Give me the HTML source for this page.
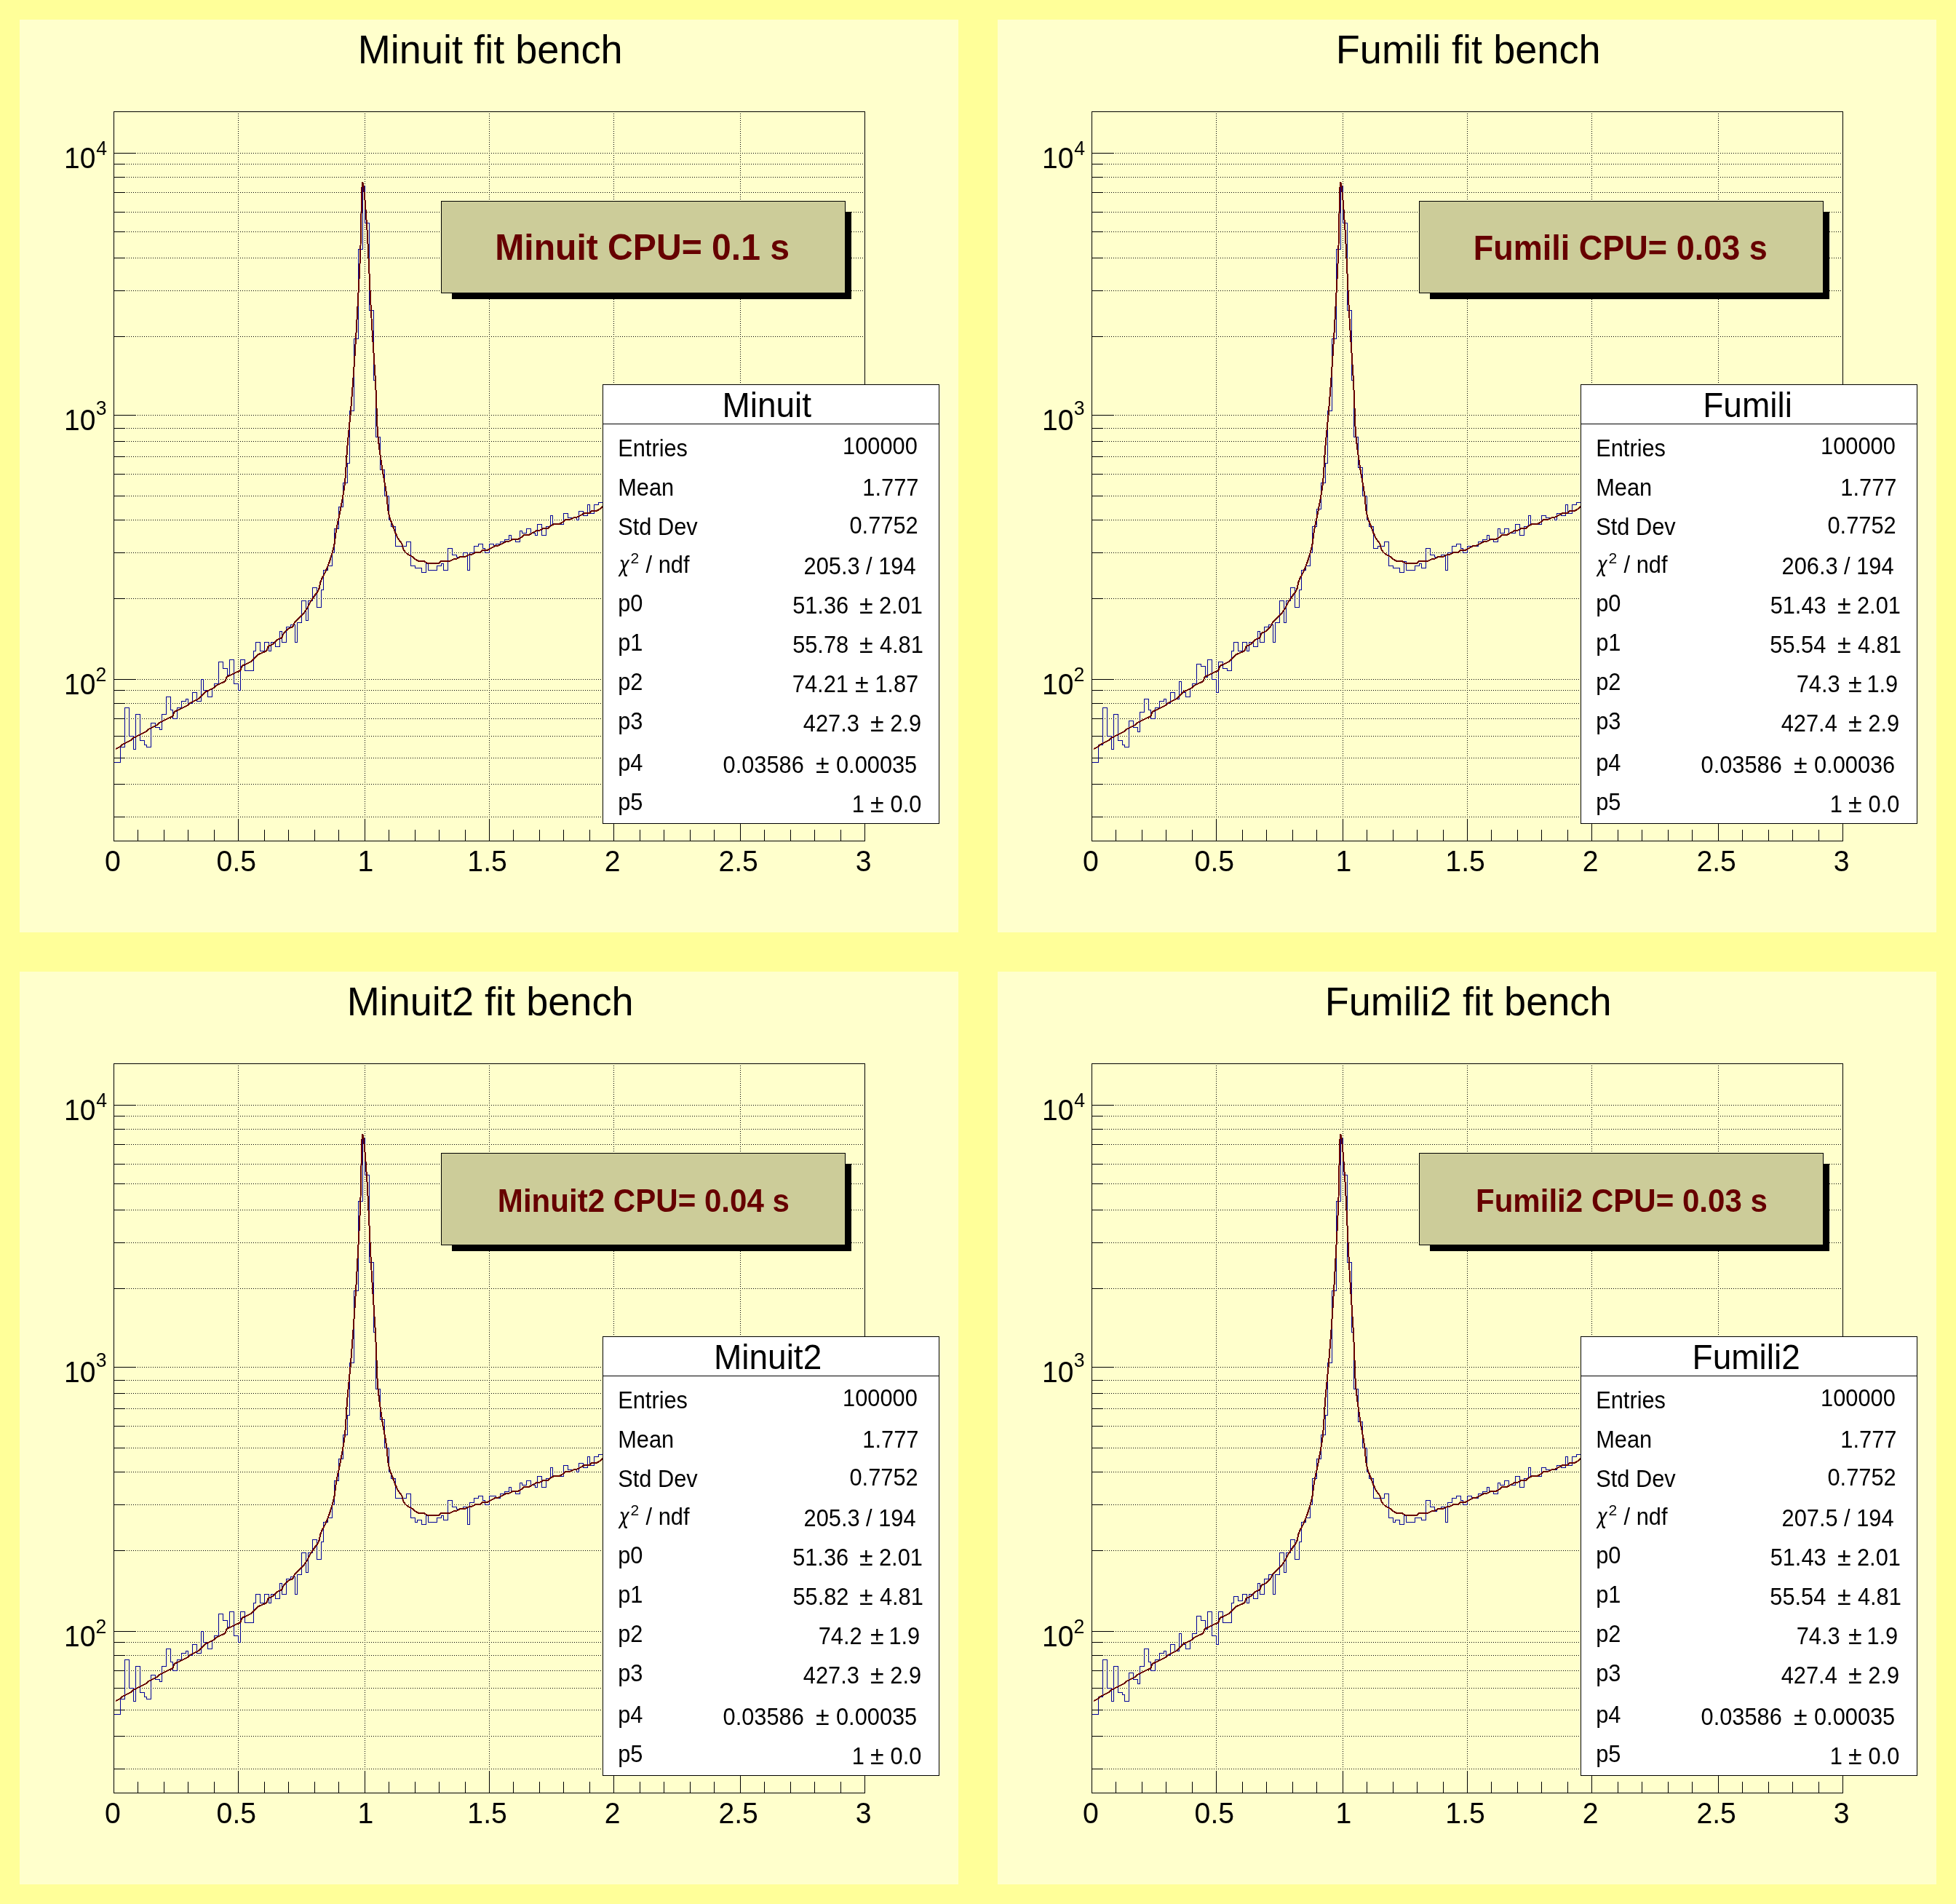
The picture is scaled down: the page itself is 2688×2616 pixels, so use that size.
<!DOCTYPE html>
<html><head><meta charset="utf-8"><title>Fitting Demo</title>
<style>html,body{margin:0;padding:0;background:#ffff99;overflow:hidden}svg{display:block;will-change:transform}text{font-kerning:none}</style></head><body>
<svg width="2688" height="2616" viewBox="0 0 2688 2616" font-family="'Liberation Sans', Arial, Helvetica, sans-serif" shape-rendering="crispEdges">
<rect width="2688" height="2616" fill="#ffff99"/>
<g transform="translate(0 0)">
<rect x="27" y="27" width="1290" height="1254" fill="#ffffcc"/>
<text transform="matrix(1 0 0 1.035 491.78 87.10)" font-size="54.10">Minuit fit bench</text>
<path d="M327.5 153 V1155 M501.5 153 V1155 M672.5 153 V1155 M843.5 153 V1155 M1017.5 153 V1155 M156 1122.5 H1188 M156 1077.5 H1188 M156 1041.5 H1188 M156 1011.5 H1188 M156 987.5 H1188 M156 966.5 H1188 M156 948.5 H1188 M156 933.5 H1188 M156 822.5 H1188 M156 759.5 H1188 M156 714.5 H1188 M156 681.5 H1188 M156 651.5 H1188 M156 627.5 H1188 M156 606.5 H1188 M156 588.5 H1188 M156 570.5 H1188 M156 462.5 H1188 M156 399.5 H1188 M156 354.5 H1188 M156 318.5 H1188 M156 291.5 H1188 M156 264.5 H1188 M156 243.5 H1188 M156 225.5 H1188 M156 210.5 H1188" stroke="#000" stroke-width="1" stroke-dasharray="1 2" fill="none"/>
<path d="M156 1122.5 H172 M156 1077.5 H172 M156 1041.5 H172 M156 1011.5 H172 M156 987.5 H172 M156 966.5 H172 M156 948.5 H172 M156 933.5 H187 M156 822.5 H172 M156 759.5 H172 M156 714.5 H172 M156 681.5 H172 M156 651.5 H172 M156 627.5 H172 M156 606.5 H172 M156 588.5 H172 M156 570.5 H187 M156 462.5 H172 M156 399.5 H172 M156 354.5 H172 M156 318.5 H172 M156 291.5 H172 M156 264.5 H172 M156 243.5 H172 M156 225.5 H172 M156 210.5 H187 M189.5 1156 V1140 M225.5 1156 V1140 M258.5 1156 V1140 M294.5 1156 V1140 M327.5 1156 V1125 M363.5 1156 V1140 M396.5 1156 V1140 M432.5 1156 V1140 M465.5 1156 V1140 M501.5 1156 V1125 M534.5 1156 V1140 M570.5 1156 V1140 M603.5 1156 V1140 M639.5 1156 V1140 M672.5 1156 V1125 M705.5 1156 V1140 M741.5 1156 V1140 M774.5 1156 V1140 M810.5 1156 V1140 M843.5 1156 V1125 M879.5 1156 V1140 M912.5 1156 V1140 M948.5 1156 V1140 M981.5 1156 V1140 M1017.5 1156 V1125 M1050.5 1156 V1140 M1086.5 1156 V1140 M1119.5 1156 V1140 M1155.5 1156 V1140" stroke="#000" stroke-width="1" fill="none"/>
<path d="M156.5 1047.5 H162.5 V1047.5 H165.5 V1026.5 H171.5 V972.5 H177.5 V1011.5 H183.5 V1029.5 H186.5 V981.5 H192.5 V1017.5 H198.5 V1023.5 H201.5 V1026.5 H207.5 V993.5 H213.5 V999.5 H219.5 V1002.5 H222.5 V981.5 H228.5 V957.5 H234.5 V975.5 H237.5 V987.5 H243.5 V972.5 H249.5 V963.5 H255.5 V960.5 H258.5 V966.5 H264.5 V951.5 H270.5 V963.5 H276.5 V933.5 H279.5 V948.5 H285.5 V957.5 H291.5 V945.5 H294.5 V939.5 H300.5 V909.5 H306.5 V918.5 H312.5 V927.5 H315.5 V906.5 H321.5 V939.5 H327.5 V948.5 H330.5 V906.5 H336.5 V921.5 H342.5 V921.5 H348.5 V894.5 H351.5 V882.5 H357.5 V894.5 H363.5 V882.5 H369.5 V894.5 H372.5 V882.5 H378.5 V888.5 H384.5 V867.5 H387.5 V882.5 H393.5 V861.5 H399.5 V858.5 H405.5 V882.5 H408.5 V855.5 H414.5 V825.5 H420.5 V852.5 H423.5 V825.5 H429.5 V807.5 H435.5 V834.5 H441.5 V810.5 H444.5 V783.5 H450.5 V777.5 H456.5 V759.5 H459.5 V726.5 H465.5 V696.5 H471.5 V663.5 H477.5 V636.5 H480.5 V564.5 H486.5 V465.5 H492.5 V342.5 H498.5 V255.5 H501.5 V306.5 H507.5 V426.5 H513.5 V522.5 H516.5 V600.5 H522.5 V645.5 H528.5 V681.5 H534.5 V714.5 H537.5 V723.5 H543.5 V750.5 H549.5 V750.5 H552.5 V750.5 H558.5 V744.5 H564.5 V777.5 H570.5 V780.5 H573.5 V780.5 H579.5 V786.5 H585.5 V774.5 H588.5 V783.5 H594.5 V783.5 H600.5 V777.5 H606.5 V774.5 H609.5 V783.5 H615.5 V753.5 H621.5 V762.5 H627.5 V765.5 H630.5 V765.5 H636.5 V759.5 H642.5 V783.5 H645.5 V759.5 H651.5 V750.5 H657.5 V747.5 H663.5 V753.5 H666.5 V759.5 H672.5 V747.5 H678.5 V750.5 H681.5 V747.5 H687.5 V744.5 H693.5 V741.5 H699.5 V735.5 H702.5 V741.5 H708.5 V744.5 H714.5 V729.5 H717.5 V732.5 H723.5 V726.5 H729.5 V732.5 H735.5 V735.5 H738.5 V720.5 H744.5 V735.5 H750.5 V723.5 H756.5 V708.5 H759.5 V720.5 H765.5 V720.5 H771.5 V720.5 H774.5 V705.5 H780.5 V711.5 H786.5 V711.5 H792.5 V714.5 H795.5 V702.5 H801.5 V708.5 H807.5 V693.5 H810.5 V705.5 H816.5 V693.5 H822.5 V690.5 H828.5 V711.5 H831.5 V696.5 H837.5 V693.5 H843.5 V696.5 H846.5 V687.5 H852.5 V690.5 H858.5 V690.5 H864.5 V693.5 H867.5 V669.5 H873.5 V678.5 H879.5 V687.5 H885.5 V666.5 H888.5 V675.5 H894.5 V672.5 H900.5 V678.5 H903.5 V675.5 H909.5 V672.5 H915.5 V663.5 H921.5 V666.5 H924.5 V666.5 H930.5 V660.5 H936.5 V663.5 H939.5 V660.5 H945.5 V666.5 H951.5 V657.5 H957.5 V651.5 H960.5 V654.5 H966.5 V663.5 H972.5 V651.5 H975.5 V663.5 H981.5 V645.5 H987.5 V639.5 H993.5 V636.5 H996.5 V645.5 H1002.5 V636.5 H1008.5 V648.5 H1014.5 V642.5 H1017.5 V642.5 H1023.5 V636.5 H1029.5 V627.5 H1032.5 V633.5 H1038.5 V621.5 H1044.5 V633.5 H1050.5 V621.5 H1053.5 V633.5 H1059.5 V636.5 H1065.5 V618.5 H1068.5 V621.5 H1074.5 V615.5 H1080.5 V618.5 H1086.5 V615.5 H1089.5 V624.5 H1095.5 V612.5 H1101.5 V618.5 H1107.5 V618.5 H1110.5 V603.5 H1116.5 V609.5 H1122.5 V612.5 H1125.5 V597.5 H1131.5 V606.5 H1137.5 V597.5 H1143.5 V600.5 H1146.5 V600.5 H1152.5 V615.5 H1158.5 V591.5 H1161.5 V606.5 H1167.5 V591.5 H1173.5 V600.5 H1179.5 V591.5 H1182.5 V582.5 H1188.5" stroke="#000099" stroke-width="1" fill="none"/>
<polyline points="159.0,1029.0 160.1,1028.5 161.8,1027.7 163.6,1026.8 165.0,1026.0 166.5,1024.5 168.0,1023.0 169.3,1022.2 170.8,1021.5 172.4,1020.8 174.0,1020.0 175.6,1019.2 177.2,1018.5 178.7,1017.8 180.0,1017.0 181.5,1015.5 183.0,1014.0 184.3,1013.2 185.8,1012.5 187.4,1011.8 189.0,1011.0 190.5,1010.2 192.0,1009.5 193.5,1008.8 195.0,1008.0 196.6,1007.2 198.2,1006.5 199.7,1005.8 201.0,1005.0 202.5,1003.5 204.0,1002.0 205.3,1001.2 206.8,1000.5 208.4,999.8 210.0,999.0 211.6,998.2 213.2,997.5 214.7,996.8 216.0,996.0 217.5,994.5 219.0,993.0 220.3,992.2 221.8,991.5 223.4,990.8 225.0,990.0 226.5,989.2 228.0,988.5 229.5,987.8 231.0,987.0 232.6,986.3 234.2,985.7 235.7,985.0 237.0,984.0 237.9,982.6 238.5,981.0 239.1,979.4 240.0,978.0 241.3,977.0 242.8,976.3 244.4,975.7 246.0,975.0 247.5,974.2 249.0,973.5 250.5,972.8 252.0,972.0 253.6,971.2 255.2,970.5 256.7,969.8 258.0,969.0 259.5,967.5 261.0,966.0 262.3,965.2 263.8,964.5 265.4,963.8 267.0,963.0 268.6,962.2 270.2,961.5 271.7,960.8 273.0,960.0 274.5,958.7 276.0,957.0 277.3,955.6 278.8,954.0 280.4,952.4 282.0,951.0 283.5,950.0 285.0,949.3 286.5,948.7 288.0,948.0 289.6,947.2 291.2,946.5 292.7,945.8 294.0,945.0 295.5,943.5 297.0,942.0 298.3,941.2 299.8,940.5 301.4,939.8 303.0,939.0 304.6,938.3 306.2,937.7 307.7,937.0 309.0,936.0 309.9,934.6 310.5,933.0 311.1,931.4 312.0,930.0 313.3,929.0 314.8,928.3 316.4,927.7 318.0,927.0 319.5,926.2 321.0,925.5 322.5,924.8 324.0,924.0 325.6,923.3 327.2,922.7 328.7,922.0 330.0,921.0 330.9,919.6 331.5,918.0 332.1,916.4 333.0,915.0 334.3,914.0 335.8,913.3 337.4,912.7 339.0,912.0 340.6,911.2 342.2,910.5 343.7,909.8 345.0,909.0 346.5,907.7 348.0,906.0 349.3,904.6 350.8,903.0 352.4,901.4 354.0,900.0 355.5,899.0 357.0,898.3 358.5,897.7 360.0,897.0 361.6,896.3 363.2,895.7 364.7,895.0 366.0,894.0 366.9,892.6 367.5,891.0 368.1,889.4 369.0,888.0 370.3,887.1 371.8,886.5 373.4,885.9 375.0,885.0 376.5,883.6 378.0,882.0 379.5,880.4 381.0,879.0 382.6,878.1 384.2,877.5 385.7,876.9 387.0,876.0 387.9,874.7 388.5,873.2 389.1,871.6 390.0,870.0 391.3,868.4 392.8,866.8 394.4,865.3 396.0,864.0 397.6,863.1 399.2,862.5 400.7,861.9 402.0,861.0 402.9,859.7 403.5,858.2 404.1,856.6 405.0,855.0 406.3,853.5 407.8,852.0 409.4,850.5 411.0,849.0 412.5,847.6 414.0,846.2 415.5,844.7 417.0,843.0 418.0,841.6 419.1,840.1 420.2,838.5 421.2,836.9 422.2,835.4 423.0,834.0 423.9,832.4 424.5,831.0 425.1,829.6 426.0,828.0 426.8,826.7 427.8,825.2 428.8,823.7 429.9,822.1 431.0,820.5 432.0,819.0 433.0,817.5 434.1,816.1 435.2,814.7 436.2,813.2 437.2,811.7 438.0,810.0 438.5,808.6 438.9,807.2 439.2,805.7 439.5,804.2 439.8,802.6 440.1,801.1 440.5,799.5 441.0,798.0 441.6,796.5 442.3,795.1 443.0,793.6 443.8,792.2 444.6,790.7 445.4,789.2 446.2,787.6 447.0,786.0 447.6,784.6 448.2,783.3 448.8,781.9 449.4,780.5 450.0,779.1 450.6,777.6 451.2,776.0 451.8,774.4 452.4,772.8 453.0,771.0 453.4,769.7 453.9,768.3 454.3,766.9 454.8,765.4 455.3,763.9 455.7,762.4 456.2,760.9 456.6,759.3 457.1,757.7 457.5,756.2 457.9,754.6 458.3,753.1 458.7,751.5 459.0,750.0 459.3,748.5 459.6,747.1 459.8,745.7 460.0,744.3 460.2,742.9 460.3,741.5 460.5,740.1 460.7,738.6 460.8,737.2 461.0,735.7 461.2,734.1 461.4,732.5 461.7,730.8 462.0,729.0 462.2,727.7 462.5,726.4 462.7,725.0 463.0,723.7 463.3,722.3 463.6,720.9 463.9,719.4 464.2,717.9 464.5,716.4 464.8,714.9 465.1,713.4 465.5,711.9 465.8,710.3 466.1,708.7 466.4,707.1 466.8,705.5 467.1,703.9 467.4,702.3 467.7,700.6 468.0,699.0 468.3,697.6 468.5,696.2 468.8,694.8 469.0,693.5 469.3,692.0 469.6,690.6 469.8,689.2 470.1,687.8 470.4,686.3 470.7,684.9 470.9,683.4 471.2,681.9 471.5,680.4 471.7,678.9 472.0,677.4 472.2,675.9 472.5,674.3 472.7,672.8 472.9,671.2 473.2,669.6 473.4,668.0 473.6,666.3 473.8,664.7 474.0,663.0 474.1,661.7 474.3,660.3 474.4,659.0 474.5,657.6 474.6,656.3 474.7,654.9 474.8,653.6 474.9,652.2 475.0,650.8 475.1,649.4 475.2,648.1 475.3,646.7 475.3,645.2 475.4,643.8 475.5,642.4 475.6,640.9 475.7,639.4 475.7,637.9 475.8,636.4 475.9,634.9 476.0,633.3 476.1,631.7 476.2,630.1 476.3,628.5 476.4,626.8 476.5,625.1 476.6,623.4 476.7,621.6 476.9,619.8 477.0,618.0 477.1,616.7 477.2,615.5 477.3,614.2 477.4,612.9 477.5,611.6 477.7,610.2 477.8,608.9 477.9,607.6 478.0,606.2 478.2,604.8 478.3,603.5 478.4,602.1 478.6,600.7 478.7,599.3 478.8,597.9 479.0,596.4 479.1,595.0 479.2,593.5 479.4,592.1 479.5,590.6 479.7,589.1 479.8,587.6 480.0,586.1 480.1,584.6 480.3,583.1 480.4,581.5 480.5,580.0 480.7,578.4 480.8,576.9 481.0,575.3 481.1,573.7 481.3,572.1 481.4,570.5 481.6,568.8 481.7,567.2 481.9,565.6 482.0,563.9 482.2,562.2 482.3,560.6 482.4,558.9 482.6,557.2 482.7,555.5 482.9,553.7 483.0,552.0 483.1,550.7 483.2,549.4 483.3,548.0 483.4,546.7 483.5,545.3 483.6,544.0 483.7,542.7 483.8,541.3 483.9,539.9 484.0,538.6 484.1,537.2 484.2,535.8 484.3,534.4 484.4,533.1 484.6,531.7 484.7,530.3 484.8,528.9 484.9,527.4 485.0,526.0 485.1,524.6 485.2,523.2 485.3,521.7 485.4,520.3 485.5,518.8 485.6,517.4 485.7,515.9 485.8,514.5 485.9,513.0 486.0,511.5 486.1,510.0 486.2,508.5 486.3,507.0 486.4,505.5 486.5,504.0 486.6,502.4 486.7,500.9 486.8,499.4 486.9,497.8 487.0,496.3 487.1,494.7 487.2,493.1 487.3,491.5 487.4,489.9 487.6,488.3 487.7,486.7 487.8,485.1 487.9,483.5 488.0,481.9 488.1,480.2 488.2,478.6 488.3,476.9 488.4,475.2 488.5,473.5 488.6,471.9 488.7,470.2 488.8,468.4 488.9,466.7 489.0,465.0 489.1,463.7 489.2,462.3 489.2,461.0 489.3,459.6 489.4,458.2 489.5,456.9 489.6,455.5 489.6,454.1 489.7,452.6 489.8,451.2 489.9,449.8 490.0,448.4 490.1,446.9 490.1,445.4 490.2,444.0 490.3,442.5 490.4,441.0 490.5,439.5 490.6,438.0 490.7,436.5 490.7,435.0 490.8,433.5 490.9,432.0 491.0,430.5 491.1,429.0 491.2,427.4 491.3,425.9 491.3,424.3 491.4,422.8 491.5,421.2 491.6,419.7 491.7,418.1 491.8,416.6 491.9,415.0 491.9,413.5 492.0,411.9 492.1,410.3 492.2,408.8 492.3,407.2 492.4,405.6 492.4,404.0 492.5,402.5 492.6,400.9 492.7,399.3 492.8,397.8 492.8,396.2 492.9,394.6 493.0,393.1 493.1,391.5 493.2,389.9 493.2,388.4 493.3,386.8 493.4,385.3 493.5,383.7 493.6,382.2 493.6,380.6 493.7,379.1 493.8,377.5 493.9,376.0 493.9,374.5 494.0,373.0 494.1,371.5 494.1,369.9 494.2,368.4 494.3,366.9 494.4,365.5 494.4,364.0 494.5,362.5 494.6,361.0 494.6,359.6 494.7,358.1 494.8,356.7 494.8,355.2 494.9,353.8 494.9,352.4 495.0,351.0 495.1,349.4 495.1,347.7 495.2,346.0 495.3,344.3 495.3,342.6 495.4,340.9 495.4,339.1 495.5,337.3 495.5,335.5 495.6,333.7 495.6,331.8 495.7,330.0 495.7,328.1 495.8,326.2 495.8,324.4 495.9,322.5 495.9,320.6 496.0,318.7 496.0,316.8 496.0,314.9 496.1,313.0 496.1,311.1 496.1,309.2 496.2,307.3 496.2,305.5 496.3,303.6 496.3,301.7 496.3,299.9 496.4,298.0 496.4,296.2 496.4,294.4 496.5,292.6 496.5,290.8 496.5,289.1 496.6,287.3 496.6,285.6 496.6,283.9 496.7,282.3 496.7,280.6 496.7,279.0 496.8,277.4 496.8,275.9 496.9,274.4 496.9,272.9 496.9,271.4 497.0,270.0 497.0,268.7 497.0,267.3 497.1,266.1 497.1,264.8 497.2,263.6 497.2,262.5 497.3,261.4 497.3,260.3 497.4,259.3 497.4,258.3 497.5,257.4 497.5,256.6 497.6,255.8 497.6,255.1 497.7,254.4 497.7,253.8 497.8,253.3 497.9,252.8 497.9,252.4 498.0,252.0 498.1,251.5 498.2,251.2 498.4,251.1 498.5,251.1 498.6,251.3 498.8,251.6 498.9,252.1 499.1,252.7 499.2,253.4 499.4,254.2 499.5,255.2 499.7,256.3 499.8,257.5 500.0,258.8 500.2,260.2 500.3,261.8 500.5,263.4 500.6,265.0 500.8,266.8 501.0,268.7 501.1,270.6 501.3,272.5 501.5,274.6 501.7,276.7 501.8,278.8 502.0,281.0 502.2,283.3 502.3,285.5 502.5,287.8 502.7,290.1 502.9,292.5 503.0,294.8 503.2,297.2 503.4,299.6 503.5,301.9 503.7,304.3 503.8,306.7 504.0,309.0 504.1,310.1 504.2,311.3 504.2,312.4 504.3,313.6 504.4,314.8 504.5,316.0 504.5,317.3 504.6,318.6 504.7,319.8 504.8,321.1 504.8,322.5 504.9,323.8 505.0,325.2 505.0,326.6 505.1,327.9 505.2,329.4 505.3,330.8 505.3,332.2 505.4,333.7 505.5,335.1 505.6,336.6 505.7,338.1 505.7,339.6 505.8,341.1 505.9,342.7 506.0,344.2 506.0,345.7 506.1,347.3 506.2,348.9 506.2,350.4 506.3,352.0 506.4,353.6 506.5,355.2 506.5,356.8 506.6,358.4 506.7,360.0 506.8,361.7 506.8,363.3 506.9,364.9 507.0,366.6 507.1,368.2 507.2,369.8 507.2,371.5 507.3,373.1 507.4,374.8 507.5,376.4 507.5,378.1 507.6,379.7 507.7,381.3 507.8,383.0 507.8,384.6 507.9,386.3 508.0,387.9 508.0,389.5 508.1,391.2 508.2,392.8 508.3,394.4 508.3,396.0 508.4,397.6 508.5,399.2 508.6,400.8 508.7,402.4 508.7,404.0 508.8,405.5 508.9,407.1 509.0,408.6 509.0,410.2 509.1,411.7 509.2,413.2 509.2,414.7 509.3,416.2 509.4,417.7 509.5,419.2 509.5,420.6 509.6,422.0 509.7,423.5 509.8,424.9 509.8,426.3 509.9,427.6 510.0,429.0 510.1,430.7 510.2,432.4 510.3,434.0 510.4,435.7 510.5,437.4 510.6,439.0 510.7,440.7 510.8,442.3 510.9,444.0 511.0,445.6 511.1,447.2 511.2,448.9 511.3,450.5 511.4,452.1 511.5,453.7 511.6,455.3 511.7,456.9 511.8,458.5 511.9,460.1 512.0,461.7 512.1,463.3 512.2,464.8 512.3,466.4 512.4,467.9 512.5,469.5 512.6,471.0 512.7,472.6 512.8,474.1 512.9,475.6 513.0,477.2 513.1,478.7 513.2,480.2 513.3,481.7 513.4,483.2 513.5,484.7 513.6,486.2 513.7,487.6 513.8,489.1 513.9,490.6 514.0,492.0 514.1,493.5 514.2,494.9 514.3,496.4 514.3,497.8 514.4,499.2 514.5,500.6 514.6,502.1 514.7,503.5 514.8,504.9 514.9,506.3 515.0,507.6 515.1,509.0 515.1,510.4 515.2,511.7 515.3,513.1 515.4,514.5 515.5,515.8 515.6,517.1 515.6,518.5 515.7,519.8 515.8,521.1 515.9,522.4 515.9,523.7 516.0,525.0 516.1,526.8 516.2,528.6 516.3,530.3 516.4,532.1 516.4,533.8 516.5,535.5 516.6,537.2 516.7,538.9 516.7,540.5 516.8,542.2 516.9,543.8 516.9,545.5 517.0,547.1 517.0,548.7 517.1,550.3 517.1,551.8 517.2,553.4 517.3,554.9 517.3,556.5 517.4,558.0 517.4,559.5 517.5,561.0 517.5,562.5 517.5,564.0 517.6,565.4 517.6,566.9 517.7,568.3 517.7,569.8 517.8,571.2 517.9,572.6 517.9,574.0 518.0,575.4 518.0,576.8 518.1,578.2 518.1,579.5 518.2,580.9 518.3,582.2 518.3,583.6 518.4,584.9 518.5,586.2 518.6,587.5 518.6,588.9 518.7,590.2 518.8,591.4 518.9,592.7 519.0,594.0 519.1,595.8 519.3,597.6 519.4,599.4 519.6,601.1 519.8,602.8 519.9,604.5 520.1,606.1 520.3,607.8 520.5,609.4 520.7,611.0 520.8,612.5 521.0,614.1 521.2,615.6 521.4,617.1 521.6,618.6 521.8,620.1 522.0,621.5 522.2,623.0 522.4,624.4 522.6,625.8 522.8,627.2 523.0,628.6 523.2,630.0 523.4,631.3 523.6,632.7 523.8,634.0 524.0,635.4 524.2,636.7 524.4,638.0 524.6,639.4 524.8,640.7 525.0,642.0 525.3,643.7 525.5,645.4 525.8,647.1 526.0,648.8 526.3,650.4 526.6,652.1 526.8,653.6 527.1,655.2 527.4,656.8 527.7,658.3 527.9,659.8 528.2,661.3 528.5,662.8 528.7,664.2 529.0,665.7 529.2,667.1 529.5,668.5 529.7,669.9 529.9,671.3 530.2,672.7 530.4,674.0 530.6,675.4 530.8,676.7 531.0,678.0 531.2,679.7 531.4,681.4 531.6,683.1 531.8,684.8 532.0,686.4 532.1,688.0 532.2,689.6 532.4,691.1 532.5,692.6 532.6,694.1 532.8,695.6 532.9,697.0 533.0,698.4 533.2,699.8 533.4,701.1 533.6,702.4 533.8,703.7 534.0,705.0 534.4,706.8 534.8,708.6 535.3,710.2 535.8,711.8 536.3,713.3 536.8,714.8 537.3,716.2 537.9,717.6 538.4,718.9 539.0,720.3 539.5,721.6 540.0,723.0 540.6,724.6 541.2,726.3 541.8,727.9 542.4,729.5 543.0,731.1 543.6,732.6 544.2,734.0 544.8,735.4 545.4,736.8 546.0,738.0 547.0,739.8 548.1,741.4 549.2,742.9 550.2,744.2 551.2,745.6 552.0,747.0 552.6,748.5 553.1,750.1 553.5,751.7 553.9,753.2 554.4,754.7 555.0,756.0 556.3,757.8 557.8,759.4 559.4,760.8 561.0,762.0 562.6,763.0 564.2,763.7 565.7,764.3 567.0,765.0 568.5,766.5 570.0,768.0 571.3,768.8 572.8,769.7 574.4,770.5 576.0,771.0 577.5,771.1 579.0,771.0 580.5,770.9 582.0,771.0 583.6,771.6 585.2,772.5 586.7,773.4 588.0,774.0 589.5,774.2 591.0,774.0 592.3,774.0 593.8,774.0 595.4,774.0 597.0,774.0 598.6,774.1 600.2,774.2 601.7,774.2 603.0,774.0 604.5,772.5 606.0,771.0 607.3,770.8 608.8,770.8 610.4,770.9 612.0,771.0 613.5,771.1 615.0,771.2 616.5,771.2 618.0,771.0 619.6,770.4 621.2,769.5 622.7,768.6 624.0,768.0 625.5,768.0 627.0,768.0 628.3,767.4 629.8,766.5 631.4,765.6 633.0,765.0 634.5,764.9 636.0,765.0 637.5,765.1 639.0,765.0 640.6,764.4 642.2,763.5 643.7,762.6 645.0,762.0 646.5,762.0 648.0,762.0 649.3,761.4 650.8,760.5 652.4,759.6 654.0,759.0 655.6,758.9 657.2,759.0 658.7,759.1 660.0,759.0 661.5,757.5 663.0,756.0 664.3,755.9 665.8,756.0 667.4,756.1 669.0,756.0 670.5,755.5 672.0,754.7 673.5,753.8 675.0,753.0 676.6,752.2 678.2,751.3 679.7,750.5 681.0,750.0 682.5,750.0 684.0,750.0 685.3,749.5 686.8,748.7 688.4,747.8 690.0,747.0 691.6,746.2 693.2,745.3 694.7,744.5 696.0,744.0 697.5,744.0 699.0,744.0 700.3,743.4 701.8,742.5 703.4,741.6 705.0,741.0 706.5,740.9 708.0,741.0 709.5,741.1 711.0,741.0 712.6,740.5 714.2,739.7 715.7,738.8 717.0,738.0 718.5,736.3 720.0,735.0 721.3,734.9 722.8,735.0 724.4,735.1 726.0,735.0 727.5,734.5 729.0,733.7 730.5,732.8 732.0,732.0 733.6,731.2 735.2,730.3 736.7,729.5 738.0,729.0 739.5,729.0 741.0,729.0 742.3,728.4 743.8,727.5 745.4,726.6 747.0,726.0 748.6,725.9 750.2,726.0 751.7,726.1 753.0,726.0 754.5,724.7 756.0,723.0 757.3,722.2 758.8,721.3 760.4,720.5 762.0,720.0 763.5,719.9 765.0,720.0 766.5,720.1 768.0,720.0 769.6,719.5 771.2,718.7 772.7,717.8 774.0,717.0 775.5,715.3 777.0,714.0 778.3,713.9 779.8,714.0 781.4,714.1 783.0,714.0 784.6,713.4 786.2,712.5 787.7,711.6 789.0,711.0 790.5,711.0 792.0,711.0 793.3,710.5 794.8,709.7 796.4,708.8 798.0,708.0 799.5,707.2 801.0,706.3 802.5,705.5 804.0,705.0 805.6,704.9 807.2,705.0 808.7,705.1 810.0,705.0 811.5,703.5 813.0,702.0 814.3,701.9 815.8,702.0 817.4,702.1 819.0,702.0 820.6,701.5 822.2,700.7 823.7,699.8 825.0,699.0 826.5,697.3 828.0,696.0 829.3,695.9 830.8,696.0 832.4,696.1 834.0,696.0 835.5,695.4 837.0,694.5 838.5,693.6 840.0,693.0 841.6,692.9 843.2,693.0 844.7,693.1 846.0,693.0 847.5,691.7 849.0,690.0 850.3,689.2 851.8,688.3 853.4,687.5 855.0,687.0 856.5,686.9 858.0,687.0 859.5,687.1 861.0,687.0 862.6,686.4 864.2,685.5 865.7,684.6 867.0,684.0 868.5,684.0 870.0,684.0 871.3,683.5 872.8,682.7 874.4,681.8 876.0,681.0 877.6,680.2 879.2,679.3 880.7,678.5 882.0,678.0 883.5,678.0 885.0,678.0 886.3,677.4 887.8,676.5 889.4,675.6 891.0,675.0 892.5,674.9 894.0,675.0 895.5,675.1 897.0,675.0 898.6,674.4 900.2,673.5 901.7,672.6 903.0,672.0 904.5,672.0 906.0,672.0 907.3,671.4 908.8,670.5 910.4,669.6 912.0,669.0 913.6,668.9 915.2,669.0 916.7,669.1 918.0,669.0 919.5,667.7 921.0,666.0 922.3,665.2 923.8,664.3 925.4,663.5 927.0,663.0 928.5,662.9 930.0,663.0 931.5,663.1 933.0,663.0 934.6,662.4 936.2,661.5 937.7,660.6 939.0,660.0 940.5,660.0 942.0,660.0 943.3,659.4 944.8,658.5 946.4,657.6 948.0,657.0 949.6,656.9 951.2,657.0 952.7,657.1 954.0,657.0 955.5,655.5 957.0,654.0 958.3,653.9 959.8,654.0 961.4,654.1 963.0,654.0 964.5,653.4 966.0,652.5 967.5,651.6 969.0,651.0 970.6,650.9 972.2,651.0 973.7,651.1 975.0,651.0 976.5,649.5 978.0,648.0 979.3,647.9 980.8,648.0 982.4,648.1 984.0,648.0 985.5,647.5 987.0,646.7 988.5,645.8 990.0,645.0 991.6,644.2 993.2,643.3 994.7,642.5 996.0,642.0 997.5,642.0 999.0,642.0 1000.3,641.4 1001.8,640.5 1003.4,639.6 1005.0,639.0 1006.6,638.9 1008.2,639.0 1009.7,639.1 1011.0,639.0 1012.5,637.5 1014.0,636.0 1015.3,635.9 1016.8,636.0 1018.4,636.1 1020.0,636.0 1021.5,635.4 1023.0,634.5 1024.5,633.6 1026.0,633.0 1027.6,632.9 1029.2,633.0 1030.7,633.1 1032.0,633.0 1033.5,631.5 1035.0,630.0 1036.3,629.9 1037.8,630.0 1039.4,630.1 1041.0,630.0 1042.6,629.4 1044.2,628.5 1045.7,627.6 1047.0,627.0 1048.5,627.0 1050.0,627.0 1051.3,626.4 1052.8,625.5 1054.4,624.6 1056.0,624.0 1057.5,623.9 1059.0,624.0 1060.5,624.1 1062.0,624.0 1063.6,623.4 1065.2,622.5 1066.7,621.6 1068.0,621.0 1069.5,621.0 1071.0,621.0 1072.3,620.4 1073.8,619.5 1075.4,618.6 1077.0,618.0 1078.6,617.8 1080.2,617.8 1081.7,617.9 1083.0,618.0 1084.5,618.2 1086.0,618.0 1087.3,617.4 1088.8,616.5 1090.4,615.6 1092.0,615.0 1093.5,614.9 1095.0,615.0 1096.5,615.1 1098.0,615.0 1099.6,614.4 1101.2,613.5 1102.7,612.6 1104.0,612.0 1105.5,612.0 1107.0,612.0 1108.3,611.4 1109.8,610.5 1111.4,609.6 1113.0,609.0 1114.5,608.9 1116.0,609.0 1117.5,609.1 1119.0,609.0 1120.6,608.4 1122.2,607.5 1123.7,606.6 1125.0,606.0 1126.5,606.0 1128.0,606.0 1129.3,605.4 1130.8,604.5 1132.4,603.6 1134.0,603.0 1135.6,602.9 1137.2,603.0 1138.7,603.1 1140.0,603.0 1141.5,601.5 1143.0,600.0 1144.3,599.9 1145.8,600.0 1147.4,600.1 1149.0,600.0 1150.5,599.4 1152.0,598.5 1153.5,597.6 1155.0,597.0 1156.6,596.8 1158.2,596.8 1159.7,596.9 1161.0,597.0 1162.5,597.2 1164.0,597.0 1165.3,596.4 1166.8,595.5 1168.4,594.6 1170.0,594.0 1171.6,593.9 1173.2,594.0 1174.7,594.1 1176.0,594.0 1177.5,592.5 1179.0,591.0 1180.4,590.8 1182.2,590.8 1183.9,590.9 1185.0,591.0" stroke="#660000" stroke-width="2" fill="none" stroke-linejoin="round"/>
<rect x="156.5" y="153.5" width="1032" height="1002" fill="none" stroke="#000" stroke-width="1"/>
<text transform="matrix(1 0 0 1.045 87.97 953.90)" font-size="39.00">10</text>
<text transform="matrix(1 0 0 1.030 131.57 935.70)" font-size="26.60">2</text>
<text transform="matrix(1 0 0 1.045 87.97 590.90)" font-size="39.00">10</text>
<text transform="matrix(1 0 0 1.030 131.84 570.40)" font-size="26.60">3</text>
<text transform="matrix(1 0 0 1.045 87.97 230.90)" font-size="39.00">10</text>
<text transform="matrix(1 0 0 1.030 132.37 212.70)" font-size="26.60">4</text>
<text transform="matrix(1 0 0 1.040 143.92 1196.80)" font-size="39.20">0</text>
<text transform="matrix(1 0 0 1.040 297.61 1196.80)" font-size="39.20">0.5</text>
<text transform="matrix(1 0 0 1.040 491.44 1196.80)" font-size="39.20">1</text>
<text transform="matrix(1 0 0 1.040 642.37 1196.80)" font-size="39.20">1.5</text>
<text transform="matrix(1 0 0 1.040 830.87 1196.80)" font-size="39.20">2</text>
<text transform="matrix(1 0 0 1.040 987.41 1196.80)" font-size="39.20">2.5</text>
<text transform="matrix(1 0 0 1.040 1175.72 1196.80)" font-size="39.20">3</text>
<rect x="621" y="403" width="549" height="8" fill="#000"/>
<rect x="1162" y="291" width="8" height="120" fill="#000"/>
<rect x="606.5" y="276.5" width="555" height="126" fill="#cccc99" stroke="#000" stroke-width="1"/>
<text transform="matrix(1 0 0 1.058 680.22 357.00)" font-size="48.10" font-weight="bold" fill="#660000">Minuit CPU= 0.1 s</text>
<rect x="828.5" y="528.5" width="462" height="603" fill="#fff" stroke="#000" stroke-width="1"/>
<path d="M828 582.5 H1291" stroke="#000" stroke-width="1"/>
<text transform="matrix(1 0 0 1.062 992.38 572.90)" font-size="46.00">Minuit</text>
<text transform="matrix(1 0 0 1.055 849.20 626.90)" font-size="30.80">Entries</text>
<text transform="matrix(1 0 0 1.055 849.20 681.00)" font-size="30.80">Mean</text>
<text transform="matrix(1 0 0 1.055 849.20 735.00)" font-size="30.80">Std Dev</text>
<text transform="matrix(0.8 0 0 1 850.45 785.7)" font-size="29.6" font-family="'DejaVu Sans', 'Liberation Sans', sans-serif" font-style="oblique">&#967;</text>
<text transform="matrix(1 0 0 1.000 866.45 774.00)" font-size="21.00">2</text>
<text transform="matrix(1 0 0 1.055 887.60 786.50)" font-size="30.80">/ ndf</text>
<text transform="matrix(1 0 0 1.055 849.20 839.50)" font-size="30.80">p0</text>
<text transform="matrix(1 0 0 1.055 849.20 894.00)" font-size="30.80">p1</text>
<text transform="matrix(1 0 0 1.055 849.20 948.20)" font-size="30.80">p2</text>
<text transform="matrix(1 0 0 1.055 849.20 1002.00)" font-size="30.80">p3</text>
<text transform="matrix(1 0 0 1.055 849.20 1059.30)" font-size="30.80">p4</text>
<text transform="matrix(1 0 0 1.055 849.20 1113.00)" font-size="30.80">p5</text>
<text transform="matrix(1 0 0 1.055 1158.06 623.50)" font-size="30.80">100000</text>
<text transform="matrix(1 0 0 1.055 1185.34 681.10)" font-size="30.80">1.777</text>
<text transform="matrix(1 0 0 1.055 1167.49 732.80)" font-size="30.80">0.7752</text>
<text transform="matrix(1 0 0 1.055 1104.52 789.30)" font-size="30.80">205.3 / 194</text>
<text transform="matrix(1 0 0 1.055 1089.13 843.00)" font-size="30.80">51.36</text>
<text transform="matrix(1 0 0 1.040 1180.98 843.00)" font-size="34.00">&#177;</text>
<text transform="matrix(1 0 0 1.055 1207.96 843.00)" font-size="30.80">2.01</text>
<text transform="matrix(1 0 0 1.055 1089.13 897.00)" font-size="30.80">55.78</text>
<text transform="matrix(1 0 0 1.040 1180.98 897.00)" font-size="34.00">&#177;</text>
<text transform="matrix(1 0 0 1.055 1208.88 897.00)" font-size="30.80">4.81</text>
<text transform="matrix(1 0 0 1.055 1088.84 950.60)" font-size="30.80">74.21</text>
<text transform="matrix(1 0 0 1.040 1175.08 950.60)" font-size="34.00">&#177;</text>
<text transform="matrix(1 0 0 1.055 1202.21 950.60)" font-size="30.80">1.87</text>
<text transform="matrix(1 0 0 1.055 1103.83 1004.80)" font-size="30.80">427.3</text>
<text transform="matrix(1 0 0 1.040 1195.98 1004.80)" font-size="34.00">&#177;</text>
<text transform="matrix(1 0 0 1.055 1223.26 1004.80)" font-size="30.80">2.9</text>
<text transform="matrix(1 0 0 1.055 993.54 1062.00)" font-size="30.80">0.03586</text>
<text transform="matrix(1 0 0 1.040 1120.88 1062.00)" font-size="34.00">&#177;</text>
<text transform="matrix(1 0 0 1.055 1148.97 1062.00)" font-size="30.80">0.00035</text>
<text transform="matrix(1 0 0 1.055 1170.70 1116.20)" font-size="30.80">1</text>
<text transform="matrix(1 0 0 1.040 1195.98 1116.20)" font-size="34.00">&#177;</text>
<text transform="matrix(1 0 0 1.055 1223.57 1116.20)" font-size="30.80">0.0</text>
</g>
<g transform="translate(1344 0)">
<rect x="27" y="27" width="1290" height="1254" fill="#ffffcc"/>
<text transform="matrix(1 0 0 1.035 491.78 87.10)" font-size="54.10">Fumili fit bench</text>
<path d="M327.5 153 V1155 M501.5 153 V1155 M672.5 153 V1155 M843.5 153 V1155 M1017.5 153 V1155 M156 1122.5 H1188 M156 1077.5 H1188 M156 1041.5 H1188 M156 1011.5 H1188 M156 987.5 H1188 M156 966.5 H1188 M156 948.5 H1188 M156 933.5 H1188 M156 822.5 H1188 M156 759.5 H1188 M156 714.5 H1188 M156 681.5 H1188 M156 651.5 H1188 M156 627.5 H1188 M156 606.5 H1188 M156 588.5 H1188 M156 570.5 H1188 M156 462.5 H1188 M156 399.5 H1188 M156 354.5 H1188 M156 318.5 H1188 M156 291.5 H1188 M156 264.5 H1188 M156 243.5 H1188 M156 225.5 H1188 M156 210.5 H1188" stroke="#000" stroke-width="1" stroke-dasharray="1 2" fill="none"/>
<path d="M156 1122.5 H172 M156 1077.5 H172 M156 1041.5 H172 M156 1011.5 H172 M156 987.5 H172 M156 966.5 H172 M156 948.5 H172 M156 933.5 H187 M156 822.5 H172 M156 759.5 H172 M156 714.5 H172 M156 681.5 H172 M156 651.5 H172 M156 627.5 H172 M156 606.5 H172 M156 588.5 H172 M156 570.5 H187 M156 462.5 H172 M156 399.5 H172 M156 354.5 H172 M156 318.5 H172 M156 291.5 H172 M156 264.5 H172 M156 243.5 H172 M156 225.5 H172 M156 210.5 H187 M189.5 1156 V1140 M225.5 1156 V1140 M258.5 1156 V1140 M294.5 1156 V1140 M327.5 1156 V1125 M363.5 1156 V1140 M396.5 1156 V1140 M432.5 1156 V1140 M465.5 1156 V1140 M501.5 1156 V1125 M534.5 1156 V1140 M570.5 1156 V1140 M603.5 1156 V1140 M639.5 1156 V1140 M672.5 1156 V1125 M705.5 1156 V1140 M741.5 1156 V1140 M774.5 1156 V1140 M810.5 1156 V1140 M843.5 1156 V1125 M879.5 1156 V1140 M912.5 1156 V1140 M948.5 1156 V1140 M981.5 1156 V1140 M1017.5 1156 V1125 M1050.5 1156 V1140 M1086.5 1156 V1140 M1119.5 1156 V1140 M1155.5 1156 V1140" stroke="#000" stroke-width="1" fill="none"/>
<path d="M156.5 1047.5 H162.5 V1047.5 H165.5 V1023.5 H171.5 V972.5 H177.5 V1011.5 H183.5 V1029.5 H186.5 V981.5 H192.5 V1017.5 H198.5 V1023.5 H201.5 V1026.5 H207.5 V990.5 H213.5 V999.5 H219.5 V1005.5 H222.5 V978.5 H228.5 V960.5 H234.5 V975.5 H237.5 V987.5 H243.5 V972.5 H249.5 V963.5 H255.5 V960.5 H258.5 V966.5 H264.5 V951.5 H270.5 V960.5 H276.5 V936.5 H279.5 V951.5 H285.5 V957.5 H291.5 V945.5 H294.5 V939.5 H300.5 V912.5 H306.5 V915.5 H312.5 V930.5 H315.5 V906.5 H321.5 V933.5 H327.5 V951.5 H330.5 V909.5 H336.5 V918.5 H342.5 V921.5 H348.5 V894.5 H351.5 V882.5 H357.5 V894.5 H363.5 V882.5 H369.5 V894.5 H372.5 V882.5 H378.5 V888.5 H384.5 V867.5 H387.5 V882.5 H393.5 V861.5 H399.5 V858.5 H405.5 V882.5 H408.5 V855.5 H414.5 V825.5 H420.5 V855.5 H423.5 V825.5 H429.5 V807.5 H435.5 V834.5 H441.5 V810.5 H444.5 V783.5 H450.5 V777.5 H456.5 V759.5 H459.5 V723.5 H465.5 V699.5 H471.5 V663.5 H477.5 V636.5 H480.5 V564.5 H486.5 V465.5 H492.5 V342.5 H498.5 V255.5 H501.5 V306.5 H507.5 V426.5 H513.5 V522.5 H516.5 V600.5 H522.5 V642.5 H528.5 V681.5 H534.5 V714.5 H537.5 V723.5 H543.5 V753.5 H549.5 V750.5 H552.5 V750.5 H558.5 V744.5 H564.5 V777.5 H570.5 V780.5 H573.5 V780.5 H579.5 V786.5 H585.5 V771.5 H588.5 V783.5 H594.5 V783.5 H600.5 V777.5 H606.5 V774.5 H609.5 V780.5 H615.5 V753.5 H621.5 V762.5 H627.5 V765.5 H630.5 V765.5 H636.5 V762.5 H642.5 V783.5 H645.5 V759.5 H651.5 V750.5 H657.5 V747.5 H663.5 V753.5 H666.5 V759.5 H672.5 V750.5 H678.5 V750.5 H681.5 V750.5 H687.5 V744.5 H693.5 V741.5 H699.5 V735.5 H702.5 V741.5 H708.5 V744.5 H714.5 V726.5 H717.5 V732.5 H723.5 V726.5 H729.5 V732.5 H735.5 V732.5 H738.5 V720.5 H744.5 V735.5 H750.5 V723.5 H756.5 V708.5 H759.5 V720.5 H765.5 V720.5 H771.5 V720.5 H774.5 V708.5 H780.5 V711.5 H786.5 V711.5 H792.5 V714.5 H795.5 V705.5 H801.5 V708.5 H807.5 V693.5 H810.5 V705.5 H816.5 V693.5 H822.5 V690.5 H828.5 V711.5 H831.5 V696.5 H837.5 V693.5 H843.5 V696.5 H846.5 V687.5 H852.5 V690.5 H858.5 V690.5 H864.5 V693.5 H867.5 V669.5 H873.5 V678.5 H879.5 V687.5 H885.5 V666.5 H888.5 V675.5 H894.5 V672.5 H900.5 V678.5 H903.5 V675.5 H909.5 V672.5 H915.5 V663.5 H921.5 V666.5 H924.5 V666.5 H930.5 V660.5 H936.5 V663.5 H939.5 V660.5 H945.5 V666.5 H951.5 V657.5 H957.5 V651.5 H960.5 V654.5 H966.5 V663.5 H972.5 V651.5 H975.5 V663.5 H981.5 V645.5 H987.5 V639.5 H993.5 V636.5 H996.5 V645.5 H1002.5 V636.5 H1008.5 V648.5 H1014.5 V642.5 H1017.5 V642.5 H1023.5 V636.5 H1029.5 V627.5 H1032.5 V633.5 H1038.5 V621.5 H1044.5 V633.5 H1050.5 V621.5 H1053.5 V633.5 H1059.5 V636.5 H1065.5 V618.5 H1068.5 V621.5 H1074.5 V615.5 H1080.5 V618.5 H1086.5 V615.5 H1089.5 V624.5 H1095.5 V612.5 H1101.5 V618.5 H1107.5 V618.5 H1110.5 V603.5 H1116.5 V609.5 H1122.5 V612.5 H1125.5 V597.5 H1131.5 V606.5 H1137.5 V597.5 H1143.5 V600.5 H1146.5 V600.5 H1152.5 V615.5 H1158.5 V591.5 H1161.5 V606.5 H1167.5 V591.5 H1173.5 V600.5 H1179.5 V591.5 H1182.5 V582.5 H1188.5" stroke="#000099" stroke-width="1" fill="none"/>
<polyline points="159.0,1029.0 160.1,1028.5 161.8,1027.7 163.6,1026.8 165.0,1026.0 166.5,1024.5 168.0,1023.0 169.3,1022.2 170.8,1021.5 172.4,1020.8 174.0,1020.0 175.6,1019.2 177.2,1018.5 178.7,1017.8 180.0,1017.0 181.5,1015.5 183.0,1014.0 184.3,1013.2 185.8,1012.5 187.4,1011.8 189.0,1011.0 190.5,1010.2 192.0,1009.5 193.5,1008.8 195.0,1008.0 196.6,1007.2 198.2,1006.5 199.7,1005.8 201.0,1005.0 202.5,1003.5 204.0,1002.0 205.3,1001.2 206.8,1000.5 208.4,999.8 210.0,999.0 211.6,998.2 213.2,997.5 214.7,996.8 216.0,996.0 217.5,994.5 219.0,993.0 220.3,992.2 221.8,991.5 223.4,990.8 225.0,990.0 226.5,989.2 228.0,988.5 229.5,987.8 231.0,987.0 232.6,986.3 234.2,985.7 235.7,985.0 237.0,984.0 237.9,982.6 238.5,981.0 239.1,979.4 240.0,978.0 241.3,977.0 242.8,976.3 244.4,975.7 246.0,975.0 247.5,974.2 249.0,973.5 250.5,972.8 252.0,972.0 253.6,971.2 255.2,970.5 256.7,969.8 258.0,969.0 259.5,967.5 261.0,966.0 262.3,965.2 263.8,964.5 265.4,963.8 267.0,963.0 268.6,962.2 270.2,961.5 271.7,960.8 273.0,960.0 274.5,958.7 276.0,957.0 277.3,955.6 278.8,954.0 280.4,952.4 282.0,951.0 283.5,950.0 285.0,949.3 286.5,948.7 288.0,948.0 289.6,947.2 291.2,946.5 292.7,945.8 294.0,945.0 295.5,943.5 297.0,942.0 298.3,941.2 299.8,940.5 301.4,939.8 303.0,939.0 304.6,938.3 306.2,937.7 307.7,937.0 309.0,936.0 309.9,934.6 310.5,933.0 311.1,931.4 312.0,930.0 313.3,929.0 314.8,928.3 316.4,927.7 318.0,927.0 319.5,926.2 321.0,925.5 322.5,924.8 324.0,924.0 325.6,923.3 327.2,922.7 328.7,922.0 330.0,921.0 330.9,919.6 331.5,918.0 332.1,916.4 333.0,915.0 334.3,914.0 335.8,913.3 337.4,912.7 339.0,912.0 340.6,911.2 342.2,910.5 343.7,909.8 345.0,909.0 346.5,907.7 348.0,906.0 349.3,904.6 350.8,903.0 352.4,901.4 354.0,900.0 355.5,899.0 357.0,898.3 358.5,897.7 360.0,897.0 361.6,896.3 363.2,895.7 364.7,895.0 366.0,894.0 366.9,892.6 367.5,891.0 368.1,889.4 369.0,888.0 370.3,887.1 371.8,886.5 373.4,885.9 375.0,885.0 376.5,883.6 378.0,882.0 379.5,880.4 381.0,879.0 382.6,878.1 384.2,877.5 385.7,876.9 387.0,876.0 387.9,874.6 388.5,873.0 389.1,871.4 390.0,870.0 391.3,869.1 392.8,868.5 394.4,867.9 396.0,867.0 397.6,865.7 399.2,864.2 400.7,862.6 402.0,861.0 402.9,859.5 403.5,858.0 404.1,856.5 405.0,855.0 406.3,853.5 407.8,852.0 409.4,850.5 411.0,849.0 412.5,847.6 414.0,846.2 415.5,844.7 417.0,843.0 418.0,841.6 419.1,840.1 420.2,838.5 421.2,836.9 422.2,835.4 423.0,834.0 423.9,832.4 424.5,831.0 425.1,829.6 426.0,828.0 426.8,826.7 427.8,825.2 428.8,823.7 429.9,822.1 431.0,820.5 432.0,819.0 433.0,817.5 434.1,816.1 435.2,814.7 436.2,813.2 437.2,811.7 438.0,810.0 438.5,808.6 438.9,807.2 439.2,805.7 439.5,804.2 439.8,802.6 440.1,801.1 440.5,799.5 441.0,798.0 441.6,796.5 442.3,795.1 443.0,793.6 443.8,792.2 444.6,790.7 445.4,789.2 446.2,787.6 447.0,786.0 447.6,784.6 448.2,783.3 448.8,781.9 449.4,780.5 450.0,779.1 450.6,777.6 451.2,776.0 451.8,774.4 452.4,772.8 453.0,771.0 453.4,769.7 453.9,768.3 454.3,766.9 454.8,765.4 455.3,763.9 455.7,762.4 456.2,760.9 456.6,759.3 457.1,757.7 457.5,756.2 457.9,754.6 458.3,753.1 458.7,751.5 459.0,750.0 459.3,748.5 459.6,747.1 459.8,745.7 460.0,744.3 460.2,742.9 460.3,741.5 460.5,740.1 460.7,738.6 460.8,737.2 461.0,735.7 461.2,734.1 461.4,732.5 461.7,730.8 462.0,729.0 462.2,727.7 462.5,726.4 462.7,725.0 463.0,723.7 463.3,722.3 463.6,720.9 463.9,719.4 464.2,717.9 464.5,716.4 464.8,714.9 465.1,713.4 465.5,711.9 465.8,710.3 466.1,708.7 466.4,707.1 466.8,705.5 467.1,703.9 467.4,702.3 467.7,700.6 468.0,699.0 468.3,697.6 468.5,696.2 468.8,694.8 469.0,693.5 469.3,692.0 469.6,690.6 469.8,689.2 470.1,687.8 470.4,686.3 470.7,684.9 470.9,683.4 471.2,681.9 471.5,680.4 471.7,678.9 472.0,677.4 472.2,675.9 472.5,674.3 472.7,672.8 472.9,671.2 473.2,669.6 473.4,668.0 473.6,666.3 473.8,664.7 474.0,663.0 474.1,661.7 474.3,660.3 474.4,659.0 474.5,657.6 474.6,656.3 474.7,654.9 474.8,653.6 474.9,652.2 475.0,650.8 475.1,649.4 475.2,648.1 475.3,646.7 475.3,645.2 475.4,643.8 475.5,642.4 475.6,640.9 475.7,639.4 475.7,637.9 475.8,636.4 475.9,634.9 476.0,633.3 476.1,631.7 476.2,630.1 476.3,628.5 476.4,626.8 476.5,625.1 476.6,623.4 476.7,621.6 476.9,619.8 477.0,618.0 477.1,616.7 477.2,615.5 477.3,614.2 477.4,612.9 477.5,611.6 477.7,610.2 477.8,608.9 477.9,607.6 478.0,606.2 478.2,604.8 478.3,603.5 478.4,602.1 478.6,600.7 478.7,599.3 478.8,597.9 479.0,596.4 479.1,595.0 479.2,593.5 479.4,592.1 479.5,590.6 479.7,589.1 479.8,587.6 480.0,586.1 480.1,584.6 480.3,583.1 480.4,581.5 480.5,580.0 480.7,578.4 480.8,576.9 481.0,575.3 481.1,573.7 481.3,572.1 481.4,570.5 481.6,568.8 481.7,567.2 481.9,565.6 482.0,563.9 482.2,562.2 482.3,560.6 482.4,558.9 482.6,557.2 482.7,555.5 482.9,553.7 483.0,552.0 483.1,550.7 483.2,549.4 483.3,548.0 483.4,546.7 483.5,545.3 483.6,544.0 483.7,542.7 483.8,541.3 483.9,539.9 484.0,538.6 484.1,537.2 484.2,535.8 484.3,534.4 484.4,533.1 484.6,531.7 484.7,530.3 484.8,528.9 484.9,527.4 485.0,526.0 485.1,524.6 485.2,523.2 485.3,521.7 485.4,520.3 485.5,518.8 485.6,517.4 485.7,515.9 485.8,514.5 485.9,513.0 486.0,511.5 486.1,510.0 486.2,508.5 486.3,507.0 486.4,505.5 486.5,504.0 486.6,502.4 486.7,500.9 486.8,499.4 486.9,497.8 487.0,496.3 487.1,494.7 487.2,493.1 487.3,491.5 487.4,489.9 487.6,488.3 487.7,486.7 487.8,485.1 487.9,483.5 488.0,481.9 488.1,480.2 488.2,478.6 488.3,476.9 488.4,475.2 488.5,473.5 488.6,471.9 488.7,470.2 488.8,468.4 488.9,466.7 489.0,465.0 489.1,463.7 489.2,462.3 489.2,461.0 489.3,459.6 489.4,458.2 489.5,456.9 489.6,455.5 489.6,454.1 489.7,452.6 489.8,451.2 489.9,449.8 490.0,448.4 490.1,446.9 490.1,445.4 490.2,444.0 490.3,442.5 490.4,441.0 490.5,439.5 490.6,438.0 490.7,436.5 490.7,435.0 490.8,433.5 490.9,432.0 491.0,430.5 491.1,429.0 491.2,427.4 491.3,425.9 491.3,424.3 491.4,422.8 491.5,421.2 491.6,419.7 491.7,418.1 491.8,416.6 491.9,415.0 491.9,413.5 492.0,411.9 492.1,410.3 492.2,408.8 492.3,407.2 492.4,405.6 492.4,404.0 492.5,402.5 492.6,400.9 492.7,399.3 492.8,397.8 492.8,396.2 492.9,394.6 493.0,393.1 493.1,391.5 493.2,389.9 493.2,388.4 493.3,386.8 493.4,385.3 493.5,383.7 493.6,382.2 493.6,380.6 493.7,379.1 493.8,377.5 493.9,376.0 493.9,374.5 494.0,373.0 494.1,371.5 494.1,369.9 494.2,368.4 494.3,366.9 494.4,365.5 494.4,364.0 494.5,362.5 494.6,361.0 494.6,359.6 494.7,358.1 494.8,356.7 494.8,355.2 494.9,353.8 494.9,352.4 495.0,351.0 495.1,349.4 495.1,347.7 495.2,346.0 495.3,344.3 495.3,342.6 495.4,340.9 495.4,339.1 495.5,337.3 495.5,335.5 495.6,333.7 495.6,331.8 495.7,330.0 495.7,328.1 495.8,326.2 495.8,324.4 495.9,322.5 495.9,320.6 496.0,318.7 496.0,316.8 496.0,314.9 496.1,313.0 496.1,311.1 496.1,309.2 496.2,307.3 496.2,305.5 496.3,303.6 496.3,301.7 496.3,299.9 496.4,298.0 496.4,296.2 496.4,294.4 496.5,292.6 496.5,290.8 496.5,289.1 496.6,287.3 496.6,285.6 496.6,283.9 496.7,282.3 496.7,280.6 496.7,279.0 496.8,277.4 496.8,275.9 496.9,274.4 496.9,272.9 496.9,271.4 497.0,270.0 497.0,268.7 497.0,267.3 497.1,266.1 497.1,264.8 497.2,263.6 497.2,262.5 497.3,261.4 497.3,260.3 497.4,259.3 497.4,258.3 497.5,257.4 497.5,256.6 497.6,255.8 497.6,255.1 497.7,254.4 497.7,253.8 497.8,253.3 497.9,252.8 497.9,252.4 498.0,252.0 498.1,251.5 498.2,251.2 498.4,251.1 498.5,251.1 498.6,251.3 498.8,251.6 498.9,252.1 499.1,252.7 499.2,253.4 499.4,254.2 499.5,255.2 499.7,256.3 499.8,257.5 500.0,258.8 500.2,260.2 500.3,261.8 500.5,263.4 500.6,265.0 500.8,266.8 501.0,268.7 501.1,270.6 501.3,272.5 501.5,274.6 501.7,276.7 501.8,278.8 502.0,281.0 502.2,283.3 502.3,285.5 502.5,287.8 502.7,290.1 502.9,292.5 503.0,294.8 503.2,297.2 503.4,299.6 503.5,301.9 503.7,304.3 503.8,306.7 504.0,309.0 504.1,310.1 504.2,311.3 504.2,312.4 504.3,313.6 504.4,314.8 504.5,316.0 504.5,317.3 504.6,318.6 504.7,319.8 504.8,321.1 504.8,322.5 504.9,323.8 505.0,325.2 505.0,326.6 505.1,327.9 505.2,329.4 505.3,330.8 505.3,332.2 505.4,333.7 505.5,335.1 505.6,336.6 505.7,338.1 505.7,339.6 505.8,341.1 505.9,342.7 506.0,344.2 506.0,345.7 506.1,347.3 506.2,348.9 506.2,350.4 506.3,352.0 506.4,353.6 506.5,355.2 506.5,356.8 506.6,358.4 506.7,360.0 506.8,361.7 506.8,363.3 506.9,364.9 507.0,366.6 507.1,368.2 507.2,369.8 507.2,371.5 507.3,373.1 507.4,374.8 507.5,376.4 507.5,378.1 507.6,379.7 507.7,381.3 507.8,383.0 507.8,384.6 507.9,386.3 508.0,387.9 508.0,389.5 508.1,391.2 508.2,392.8 508.3,394.4 508.3,396.0 508.4,397.6 508.5,399.2 508.6,400.8 508.7,402.4 508.7,404.0 508.8,405.5 508.9,407.1 509.0,408.6 509.0,410.2 509.1,411.7 509.2,413.2 509.2,414.7 509.3,416.2 509.4,417.7 509.5,419.2 509.5,420.6 509.6,422.0 509.7,423.5 509.8,424.9 509.8,426.3 509.9,427.6 510.0,429.0 510.1,430.7 510.2,432.4 510.3,434.0 510.4,435.7 510.5,437.4 510.6,439.0 510.7,440.7 510.8,442.3 510.9,444.0 511.0,445.6 511.1,447.2 511.2,448.9 511.3,450.5 511.4,452.1 511.5,453.7 511.6,455.3 511.7,456.9 511.8,458.5 511.9,460.1 512.0,461.7 512.1,463.3 512.2,464.8 512.3,466.4 512.4,467.9 512.5,469.5 512.6,471.0 512.7,472.6 512.8,474.1 512.9,475.6 513.0,477.2 513.1,478.7 513.2,480.2 513.3,481.7 513.4,483.2 513.5,484.7 513.6,486.2 513.7,487.6 513.8,489.1 513.9,490.6 514.0,492.0 514.1,493.5 514.2,494.9 514.3,496.4 514.3,497.8 514.4,499.2 514.5,500.6 514.6,502.1 514.7,503.5 514.8,504.9 514.9,506.3 515.0,507.6 515.1,509.0 515.1,510.4 515.2,511.7 515.3,513.1 515.4,514.5 515.5,515.8 515.6,517.1 515.6,518.5 515.7,519.8 515.8,521.1 515.9,522.4 515.9,523.7 516.0,525.0 516.1,526.8 516.2,528.6 516.3,530.3 516.4,532.1 516.4,533.8 516.5,535.5 516.6,537.2 516.7,538.9 516.7,540.5 516.8,542.2 516.9,543.8 516.9,545.5 517.0,547.1 517.0,548.7 517.1,550.3 517.1,551.8 517.2,553.4 517.3,554.9 517.3,556.5 517.4,558.0 517.4,559.5 517.5,561.0 517.5,562.5 517.5,564.0 517.6,565.4 517.6,566.9 517.7,568.3 517.7,569.8 517.8,571.2 517.9,572.6 517.9,574.0 518.0,575.4 518.0,576.8 518.1,578.2 518.1,579.5 518.2,580.9 518.3,582.2 518.3,583.6 518.4,584.9 518.5,586.2 518.6,587.5 518.6,588.9 518.7,590.2 518.8,591.4 518.9,592.7 519.0,594.0 519.1,595.8 519.3,597.6 519.4,599.4 519.6,601.1 519.8,602.8 519.9,604.5 520.1,606.1 520.3,607.8 520.5,609.4 520.7,611.0 520.8,612.5 521.0,614.1 521.2,615.6 521.4,617.1 521.6,618.6 521.8,620.1 522.0,621.5 522.2,623.0 522.4,624.4 522.6,625.8 522.8,627.2 523.0,628.6 523.2,630.0 523.4,631.3 523.6,632.7 523.8,634.0 524.0,635.4 524.2,636.7 524.4,638.0 524.6,639.4 524.8,640.7 525.0,642.0 525.3,643.7 525.5,645.4 525.8,647.1 526.0,648.8 526.3,650.4 526.6,652.1 526.8,653.6 527.1,655.2 527.4,656.8 527.7,658.3 527.9,659.8 528.2,661.3 528.5,662.8 528.7,664.2 529.0,665.7 529.2,667.1 529.5,668.5 529.7,669.9 529.9,671.3 530.2,672.7 530.4,674.0 530.6,675.4 530.8,676.7 531.0,678.0 531.2,679.7 531.4,681.4 531.6,683.1 531.8,684.8 532.0,686.4 532.1,688.0 532.2,689.6 532.4,691.1 532.5,692.6 532.6,694.1 532.8,695.6 532.9,697.0 533.0,698.4 533.2,699.8 533.4,701.1 533.6,702.4 533.8,703.7 534.0,705.0 534.4,706.8 534.8,708.6 535.3,710.2 535.8,711.8 536.3,713.3 536.8,714.8 537.3,716.2 537.9,717.6 538.4,718.9 539.0,720.3 539.5,721.6 540.0,723.0 540.6,724.6 541.2,726.3 541.8,727.9 542.4,729.5 543.0,731.1 543.6,732.6 544.2,734.0 544.8,735.4 545.4,736.8 546.0,738.0 547.0,739.8 548.1,741.4 549.2,742.9 550.2,744.2 551.2,745.6 552.0,747.0 552.6,748.5 553.1,750.1 553.5,751.7 553.9,753.2 554.4,754.7 555.0,756.0 556.3,757.8 557.8,759.4 559.4,760.8 561.0,762.0 562.6,763.0 564.2,763.7 565.7,764.3 567.0,765.0 568.5,766.5 570.0,768.0 571.3,768.8 572.8,769.7 574.4,770.5 576.0,771.0 577.5,771.1 579.0,771.0 580.5,770.9 582.0,771.0 583.6,771.6 585.2,772.5 586.7,773.4 588.0,774.0 589.5,774.2 591.0,774.0 592.3,774.0 593.8,774.0 595.4,774.0 597.0,774.0 598.6,774.1 600.2,774.2 601.7,774.2 603.0,774.0 604.5,772.5 606.0,771.0 607.3,770.8 608.8,770.8 610.4,770.9 612.0,771.0 613.5,771.1 615.0,771.2 616.5,771.2 618.0,771.0 619.6,770.4 621.2,769.5 622.7,768.6 624.0,768.0 625.5,768.0 627.0,768.0 628.3,767.4 629.8,766.5 631.4,765.6 633.0,765.0 634.5,764.9 636.0,765.0 637.5,765.1 639.0,765.0 640.6,764.4 642.2,763.5 643.7,762.6 645.0,762.0 646.5,762.0 648.0,762.0 649.3,761.4 650.8,760.5 652.4,759.6 654.0,759.0 655.6,758.9 657.2,759.0 658.7,759.1 660.0,759.0 661.5,757.5 663.0,756.0 664.3,755.9 665.8,756.0 667.4,756.1 669.0,756.0 670.5,755.5 672.0,754.7 673.5,753.8 675.0,753.0 676.6,752.2 678.2,751.3 679.7,750.5 681.0,750.0 682.5,750.0 684.0,750.0 685.3,749.5 686.8,748.7 688.4,747.8 690.0,747.0 691.6,746.2 693.2,745.3 694.7,744.5 696.0,744.0 697.5,744.0 699.0,744.0 700.3,743.4 701.8,742.5 703.4,741.6 705.0,741.0 706.5,740.9 708.0,741.0 709.5,741.1 711.0,741.0 712.6,740.5 714.2,739.7 715.7,738.8 717.0,738.0 718.5,736.3 720.0,735.0 721.3,734.9 722.8,735.0 724.4,735.1 726.0,735.0 727.5,734.5 729.0,733.7 730.5,732.8 732.0,732.0 733.6,731.2 735.2,730.3 736.7,729.5 738.0,729.0 739.5,729.0 741.0,729.0 742.3,728.4 743.8,727.5 745.4,726.6 747.0,726.0 748.6,725.9 750.2,726.0 751.7,726.1 753.0,726.0 754.5,724.7 756.0,723.0 757.3,722.2 758.8,721.3 760.4,720.5 762.0,720.0 763.5,719.9 765.0,720.0 766.5,720.1 768.0,720.0 769.6,719.5 771.2,718.7 772.7,717.8 774.0,717.0 775.5,715.3 777.0,714.0 778.3,713.9 779.8,714.0 781.4,714.1 783.0,714.0 784.6,713.4 786.2,712.5 787.7,711.6 789.0,711.0 790.5,711.0 792.0,711.0 793.3,710.5 794.8,709.7 796.4,708.8 798.0,708.0 799.5,707.2 801.0,706.3 802.5,705.5 804.0,705.0 805.6,704.9 807.2,705.0 808.7,705.1 810.0,705.0 811.5,703.5 813.0,702.0 814.3,701.9 815.8,702.0 817.4,702.1 819.0,702.0 820.6,701.5 822.2,700.7 823.7,699.8 825.0,699.0 826.5,697.3 828.0,696.0 829.3,695.9 830.8,696.0 832.4,696.1 834.0,696.0 835.5,695.4 837.0,694.5 838.5,693.6 840.0,693.0 841.6,692.9 843.2,693.0 844.7,693.1 846.0,693.0 847.5,691.7 849.0,690.0 850.3,689.2 851.8,688.3 853.4,687.5 855.0,687.0 856.5,686.9 858.0,687.0 859.5,687.1 861.0,687.0 862.6,686.4 864.2,685.5 865.7,684.6 867.0,684.0 868.5,684.0 870.0,684.0 871.3,683.5 872.8,682.7 874.4,681.8 876.0,681.0 877.6,680.2 879.2,679.3 880.7,678.5 882.0,678.0 883.5,678.0 885.0,678.0 886.3,677.4 887.8,676.5 889.4,675.6 891.0,675.0 892.5,674.9 894.0,675.0 895.5,675.1 897.0,675.0 898.6,674.4 900.2,673.5 901.7,672.6 903.0,672.0 904.5,672.0 906.0,672.0 907.3,671.4 908.8,670.5 910.4,669.6 912.0,669.0 913.6,668.9 915.2,669.0 916.7,669.1 918.0,669.0 919.5,667.7 921.0,666.0 922.3,665.2 923.8,664.3 925.4,663.5 927.0,663.0 928.5,662.9 930.0,663.0 931.5,663.1 933.0,663.0 934.6,662.4 936.2,661.5 937.7,660.6 939.0,660.0 940.5,660.0 942.0,660.0 943.3,659.4 944.8,658.5 946.4,657.6 948.0,657.0 949.6,656.9 951.2,657.0 952.7,657.1 954.0,657.0 955.5,655.5 957.0,654.0 958.3,653.9 959.8,654.0 961.4,654.1 963.0,654.0 964.5,653.4 966.0,652.5 967.5,651.6 969.0,651.0 970.6,650.9 972.2,651.0 973.7,651.1 975.0,651.0 976.5,649.5 978.0,648.0 979.3,647.9 980.8,648.0 982.4,648.1 984.0,648.0 985.5,647.5 987.0,646.7 988.5,645.8 990.0,645.0 991.6,644.2 993.2,643.3 994.7,642.5 996.0,642.0 997.5,642.0 999.0,642.0 1000.3,641.4 1001.8,640.5 1003.4,639.6 1005.0,639.0 1006.6,638.9 1008.2,639.0 1009.7,639.1 1011.0,639.0 1012.5,637.5 1014.0,636.0 1015.3,635.9 1016.8,636.0 1018.4,636.1 1020.0,636.0 1021.5,635.4 1023.0,634.5 1024.5,633.6 1026.0,633.0 1027.6,632.9 1029.2,633.0 1030.7,633.1 1032.0,633.0 1033.5,631.5 1035.0,630.0 1036.3,629.9 1037.8,630.0 1039.4,630.1 1041.0,630.0 1042.6,629.4 1044.2,628.5 1045.7,627.6 1047.0,627.0 1048.5,627.0 1050.0,627.0 1051.3,626.4 1052.8,625.5 1054.4,624.6 1056.0,624.0 1057.5,623.9 1059.0,624.0 1060.5,624.1 1062.0,624.0 1063.6,623.4 1065.2,622.5 1066.7,621.6 1068.0,621.0 1069.5,621.0 1071.0,621.0 1072.3,620.4 1073.8,619.5 1075.4,618.6 1077.0,618.0 1078.6,617.9 1080.2,618.0 1081.7,618.1 1083.0,618.0 1084.5,616.5 1086.0,615.0 1087.3,614.8 1088.8,614.8 1090.4,614.9 1092.0,615.0 1093.5,615.1 1095.0,615.2 1096.5,615.2 1098.0,615.0 1099.6,614.4 1101.2,613.5 1102.7,612.6 1104.0,612.0 1105.5,612.0 1107.0,612.0 1108.3,611.4 1109.8,610.5 1111.4,609.6 1113.0,609.0 1114.5,608.9 1116.0,609.0 1117.5,609.1 1119.0,609.0 1120.6,608.4 1122.2,607.5 1123.7,606.6 1125.0,606.0 1126.5,606.0 1128.0,606.0 1129.3,605.4 1130.8,604.5 1132.4,603.6 1134.0,603.0 1135.6,602.9 1137.2,603.0 1138.7,603.1 1140.0,603.0 1141.5,601.5 1143.0,600.0 1144.3,599.9 1145.8,600.0 1147.4,600.1 1149.0,600.0 1150.5,599.4 1152.0,598.5 1153.5,597.6 1155.0,597.0 1156.6,596.8 1158.2,596.8 1159.7,596.9 1161.0,597.0 1162.5,597.2 1164.0,597.0 1165.3,596.4 1166.8,595.5 1168.4,594.6 1170.0,594.0 1171.6,593.9 1173.2,594.0 1174.7,594.1 1176.0,594.0 1177.5,592.5 1179.0,591.0 1180.4,590.8 1182.2,590.8 1183.9,590.9 1185.0,591.0" stroke="#660000" stroke-width="2" fill="none" stroke-linejoin="round"/>
<rect x="156.5" y="153.5" width="1032" height="1002" fill="none" stroke="#000" stroke-width="1"/>
<text transform="matrix(1 0 0 1.045 87.97 953.90)" font-size="39.00">10</text>
<text transform="matrix(1 0 0 1.030 131.57 935.70)" font-size="26.60">2</text>
<text transform="matrix(1 0 0 1.045 87.97 590.90)" font-size="39.00">10</text>
<text transform="matrix(1 0 0 1.030 131.84 570.40)" font-size="26.60">3</text>
<text transform="matrix(1 0 0 1.045 87.97 230.90)" font-size="39.00">10</text>
<text transform="matrix(1 0 0 1.030 132.37 212.70)" font-size="26.60">4</text>
<text transform="matrix(1 0 0 1.040 143.92 1196.80)" font-size="39.20">0</text>
<text transform="matrix(1 0 0 1.040 297.61 1196.80)" font-size="39.20">0.5</text>
<text transform="matrix(1 0 0 1.040 491.44 1196.80)" font-size="39.20">1</text>
<text transform="matrix(1 0 0 1.040 642.37 1196.80)" font-size="39.20">1.5</text>
<text transform="matrix(1 0 0 1.040 830.87 1196.80)" font-size="39.20">2</text>
<text transform="matrix(1 0 0 1.040 987.41 1196.80)" font-size="39.20">2.5</text>
<text transform="matrix(1 0 0 1.040 1175.72 1196.80)" font-size="39.20">3</text>
<rect x="621" y="403" width="549" height="8" fill="#000"/>
<rect x="1162" y="291" width="8" height="120" fill="#000"/>
<rect x="606.5" y="276.5" width="555" height="126" fill="#cccc99" stroke="#000" stroke-width="1"/>
<text transform="matrix(1 0 0 1.058 680.82 357.00)" font-size="45.02" font-weight="bold" fill="#660000">Fumili CPU= 0.03 s</text>
<rect x="828.5" y="528.5" width="462" height="603" fill="#fff" stroke="#000" stroke-width="1"/>
<path d="M828 582.5 H1291" stroke="#000" stroke-width="1"/>
<text transform="matrix(1 0 0 1.062 996.21 572.90)" font-size="46.00">Fumili</text>
<text transform="matrix(1 0 0 1.055 849.20 626.90)" font-size="30.80">Entries</text>
<text transform="matrix(1 0 0 1.055 849.20 681.00)" font-size="30.80">Mean</text>
<text transform="matrix(1 0 0 1.055 849.20 735.00)" font-size="30.80">Std Dev</text>
<text transform="matrix(0.8 0 0 1 850.45 785.7)" font-size="29.6" font-family="'DejaVu Sans', 'Liberation Sans', sans-serif" font-style="oblique">&#967;</text>
<text transform="matrix(1 0 0 1.000 866.45 774.00)" font-size="21.00">2</text>
<text transform="matrix(1 0 0 1.055 887.60 786.50)" font-size="30.80">/ ndf</text>
<text transform="matrix(1 0 0 1.055 849.20 839.50)" font-size="30.80">p0</text>
<text transform="matrix(1 0 0 1.055 849.20 894.00)" font-size="30.80">p1</text>
<text transform="matrix(1 0 0 1.055 849.20 948.20)" font-size="30.80">p2</text>
<text transform="matrix(1 0 0 1.055 849.20 1002.00)" font-size="30.80">p3</text>
<text transform="matrix(1 0 0 1.055 849.20 1059.30)" font-size="30.80">p4</text>
<text transform="matrix(1 0 0 1.055 849.20 1113.00)" font-size="30.80">p5</text>
<text transform="matrix(1 0 0 1.055 1158.06 623.50)" font-size="30.80">100000</text>
<text transform="matrix(1 0 0 1.055 1185.34 681.10)" font-size="30.80">1.777</text>
<text transform="matrix(1 0 0 1.055 1167.49 732.80)" font-size="30.80">0.7752</text>
<text transform="matrix(1 0 0 1.055 1104.52 789.30)" font-size="30.80">206.3 / 194</text>
<text transform="matrix(1 0 0 1.055 1088.63 843.00)" font-size="30.80">51.43</text>
<text transform="matrix(1 0 0 1.040 1180.98 843.00)" font-size="34.00">&#177;</text>
<text transform="matrix(1 0 0 1.055 1207.96 843.00)" font-size="30.80">2.01</text>
<text transform="matrix(1 0 0 1.055 1088.32 897.00)" font-size="30.80">55.54</text>
<text transform="matrix(1 0 0 1.040 1180.98 897.00)" font-size="34.00">&#177;</text>
<text transform="matrix(1 0 0 1.055 1208.88 897.00)" font-size="30.80">4.81</text>
<text transform="matrix(1 0 0 1.055 1124.68 950.60)" font-size="30.80">74.3</text>
<text transform="matrix(1 0 0 1.040 1195.98 950.60)" font-size="34.00">&#177;</text>
<text transform="matrix(1 0 0 1.055 1221.41 950.60)" font-size="30.80">1.9</text>
<text transform="matrix(1 0 0 1.055 1103.72 1004.80)" font-size="30.80">427.4</text>
<text transform="matrix(1 0 0 1.040 1195.98 1004.80)" font-size="34.00">&#177;</text>
<text transform="matrix(1 0 0 1.055 1223.26 1004.80)" font-size="30.80">2.9</text>
<text transform="matrix(1 0 0 1.055 993.54 1062.00)" font-size="30.80">0.03586</text>
<text transform="matrix(1 0 0 1.040 1120.88 1062.00)" font-size="34.00">&#177;</text>
<text transform="matrix(1 0 0 1.055 1148.97 1062.00)" font-size="30.80">0.00036</text>
<text transform="matrix(1 0 0 1.055 1170.70 1116.20)" font-size="30.80">1</text>
<text transform="matrix(1 0 0 1.040 1195.98 1116.20)" font-size="34.00">&#177;</text>
<text transform="matrix(1 0 0 1.055 1223.57 1116.20)" font-size="30.80">0.0</text>
</g>
<g transform="translate(0 1308)">
<rect x="27" y="27" width="1290" height="1254" fill="#ffffcc"/>
<text transform="matrix(1 0 0 1.035 476.63 87.10)" font-size="54.10">Minuit2 fit bench</text>
<path d="M327.5 153 V1155 M501.5 153 V1155 M672.5 153 V1155 M843.5 153 V1155 M1017.5 153 V1155 M156 1122.5 H1188 M156 1077.5 H1188 M156 1041.5 H1188 M156 1011.5 H1188 M156 987.5 H1188 M156 966.5 H1188 M156 948.5 H1188 M156 933.5 H1188 M156 822.5 H1188 M156 759.5 H1188 M156 714.5 H1188 M156 681.5 H1188 M156 651.5 H1188 M156 627.5 H1188 M156 606.5 H1188 M156 588.5 H1188 M156 570.5 H1188 M156 462.5 H1188 M156 399.5 H1188 M156 354.5 H1188 M156 318.5 H1188 M156 291.5 H1188 M156 264.5 H1188 M156 243.5 H1188 M156 225.5 H1188 M156 210.5 H1188" stroke="#000" stroke-width="1" stroke-dasharray="1 2" fill="none"/>
<path d="M156 1122.5 H172 M156 1077.5 H172 M156 1041.5 H172 M156 1011.5 H172 M156 987.5 H172 M156 966.5 H172 M156 948.5 H172 M156 933.5 H187 M156 822.5 H172 M156 759.5 H172 M156 714.5 H172 M156 681.5 H172 M156 651.5 H172 M156 627.5 H172 M156 606.5 H172 M156 588.5 H172 M156 570.5 H187 M156 462.5 H172 M156 399.5 H172 M156 354.5 H172 M156 318.5 H172 M156 291.5 H172 M156 264.5 H172 M156 243.5 H172 M156 225.5 H172 M156 210.5 H187 M189.5 1156 V1140 M225.5 1156 V1140 M258.5 1156 V1140 M294.5 1156 V1140 M327.5 1156 V1125 M363.5 1156 V1140 M396.5 1156 V1140 M432.5 1156 V1140 M465.5 1156 V1140 M501.5 1156 V1125 M534.5 1156 V1140 M570.5 1156 V1140 M603.5 1156 V1140 M639.5 1156 V1140 M672.5 1156 V1125 M705.5 1156 V1140 M741.5 1156 V1140 M774.5 1156 V1140 M810.5 1156 V1140 M843.5 1156 V1125 M879.5 1156 V1140 M912.5 1156 V1140 M948.5 1156 V1140 M981.5 1156 V1140 M1017.5 1156 V1125 M1050.5 1156 V1140 M1086.5 1156 V1140 M1119.5 1156 V1140 M1155.5 1156 V1140" stroke="#000" stroke-width="1" fill="none"/>
<path d="M156.5 1047.5 H162.5 V1047.5 H165.5 V1026.5 H171.5 V972.5 H177.5 V1011.5 H183.5 V1029.5 H186.5 V981.5 H192.5 V1017.5 H198.5 V1023.5 H201.5 V1026.5 H207.5 V993.5 H213.5 V999.5 H219.5 V1002.5 H222.5 V981.5 H228.5 V957.5 H234.5 V975.5 H237.5 V987.5 H243.5 V972.5 H249.5 V963.5 H255.5 V960.5 H258.5 V966.5 H264.5 V951.5 H270.5 V963.5 H276.5 V933.5 H279.5 V948.5 H285.5 V957.5 H291.5 V945.5 H294.5 V939.5 H300.5 V909.5 H306.5 V918.5 H312.5 V927.5 H315.5 V906.5 H321.5 V939.5 H327.5 V948.5 H330.5 V906.5 H336.5 V921.5 H342.5 V921.5 H348.5 V894.5 H351.5 V882.5 H357.5 V894.5 H363.5 V882.5 H369.5 V894.5 H372.5 V882.5 H378.5 V888.5 H384.5 V867.5 H387.5 V882.5 H393.5 V861.5 H399.5 V858.5 H405.5 V882.5 H408.5 V855.5 H414.5 V825.5 H420.5 V852.5 H423.5 V825.5 H429.5 V807.5 H435.5 V834.5 H441.5 V810.5 H444.5 V783.5 H450.5 V777.5 H456.5 V759.5 H459.5 V726.5 H465.5 V696.5 H471.5 V663.5 H477.5 V636.5 H480.5 V564.5 H486.5 V465.5 H492.5 V342.5 H498.5 V255.5 H501.5 V306.5 H507.5 V426.5 H513.5 V522.5 H516.5 V600.5 H522.5 V642.5 H528.5 V681.5 H534.5 V714.5 H537.5 V723.5 H543.5 V750.5 H549.5 V750.5 H552.5 V750.5 H558.5 V744.5 H564.5 V777.5 H570.5 V783.5 H573.5 V780.5 H579.5 V786.5 H585.5 V774.5 H588.5 V783.5 H594.5 V783.5 H600.5 V777.5 H606.5 V774.5 H609.5 V780.5 H615.5 V753.5 H621.5 V762.5 H627.5 V765.5 H630.5 V765.5 H636.5 V762.5 H642.5 V786.5 H645.5 V756.5 H651.5 V750.5 H657.5 V747.5 H663.5 V753.5 H666.5 V759.5 H672.5 V747.5 H678.5 V747.5 H681.5 V750.5 H687.5 V744.5 H693.5 V741.5 H699.5 V735.5 H702.5 V741.5 H708.5 V744.5 H714.5 V729.5 H717.5 V732.5 H723.5 V726.5 H729.5 V732.5 H735.5 V735.5 H738.5 V720.5 H744.5 V735.5 H750.5 V723.5 H756.5 V708.5 H759.5 V720.5 H765.5 V720.5 H771.5 V720.5 H774.5 V705.5 H780.5 V711.5 H786.5 V711.5 H792.5 V714.5 H795.5 V702.5 H801.5 V708.5 H807.5 V693.5 H810.5 V705.5 H816.5 V693.5 H822.5 V690.5 H828.5 V711.5 H831.5 V696.5 H837.5 V693.5 H843.5 V696.5 H846.5 V687.5 H852.5 V690.5 H858.5 V690.5 H864.5 V693.5 H867.5 V669.5 H873.5 V678.5 H879.5 V687.5 H885.5 V666.5 H888.5 V675.5 H894.5 V672.5 H900.5 V678.5 H903.5 V675.5 H909.5 V672.5 H915.5 V663.5 H921.5 V666.5 H924.5 V666.5 H930.5 V660.5 H936.5 V663.5 H939.5 V660.5 H945.5 V666.5 H951.5 V657.5 H957.5 V651.5 H960.5 V654.5 H966.5 V663.5 H972.5 V651.5 H975.5 V663.5 H981.5 V645.5 H987.5 V639.5 H993.5 V636.5 H996.5 V645.5 H1002.5 V636.5 H1008.5 V648.5 H1014.5 V642.5 H1017.5 V642.5 H1023.5 V636.5 H1029.5 V627.5 H1032.5 V633.5 H1038.5 V621.5 H1044.5 V633.5 H1050.5 V621.5 H1053.5 V633.5 H1059.5 V636.5 H1065.5 V618.5 H1068.5 V621.5 H1074.5 V615.5 H1080.5 V618.5 H1086.5 V615.5 H1089.5 V624.5 H1095.5 V612.5 H1101.5 V618.5 H1107.5 V618.5 H1110.5 V603.5 H1116.5 V609.5 H1122.5 V612.5 H1125.5 V597.5 H1131.5 V606.5 H1137.5 V597.5 H1143.5 V600.5 H1146.5 V600.5 H1152.5 V615.5 H1158.5 V591.5 H1161.5 V606.5 H1167.5 V591.5 H1173.5 V600.5 H1179.5 V591.5 H1182.5 V582.5 H1188.5" stroke="#000099" stroke-width="1" fill="none"/>
<polyline points="159.0,1029.0 160.1,1028.5 161.8,1027.7 163.6,1026.8 165.0,1026.0 166.5,1024.5 168.0,1023.0 169.3,1022.2 170.8,1021.5 172.4,1020.8 174.0,1020.0 175.6,1019.2 177.2,1018.5 178.7,1017.8 180.0,1017.0 181.5,1015.5 183.0,1014.0 184.3,1013.2 185.8,1012.5 187.4,1011.8 189.0,1011.0 190.5,1010.2 192.0,1009.5 193.5,1008.8 195.0,1008.0 196.6,1007.2 198.2,1006.5 199.7,1005.8 201.0,1005.0 202.5,1003.5 204.0,1002.0 205.3,1001.2 206.8,1000.5 208.4,999.8 210.0,999.0 211.6,998.2 213.2,997.5 214.7,996.8 216.0,996.0 217.5,994.5 219.0,993.0 220.3,992.2 221.8,991.5 223.4,990.8 225.0,990.0 226.5,989.2 228.0,988.5 229.5,987.8 231.0,987.0 232.6,986.3 234.2,985.7 235.7,985.0 237.0,984.0 237.9,982.6 238.5,981.0 239.1,979.4 240.0,978.0 241.3,977.0 242.8,976.3 244.4,975.7 246.0,975.0 247.5,974.2 249.0,973.5 250.5,972.8 252.0,972.0 253.6,971.2 255.2,970.5 256.7,969.8 258.0,969.0 259.5,967.5 261.0,966.0 262.3,965.2 263.8,964.5 265.4,963.8 267.0,963.0 268.6,962.2 270.2,961.5 271.7,960.8 273.0,960.0 274.5,958.7 276.0,957.0 277.3,955.6 278.8,954.0 280.4,952.4 282.0,951.0 283.5,950.0 285.0,949.3 286.5,948.7 288.0,948.0 289.6,947.2 291.2,946.5 292.7,945.8 294.0,945.0 295.5,943.5 297.0,942.0 298.3,941.2 299.8,940.5 301.4,939.8 303.0,939.0 304.6,938.3 306.2,937.7 307.7,937.0 309.0,936.0 309.9,934.6 310.5,933.0 311.1,931.4 312.0,930.0 313.3,929.0 314.8,928.3 316.4,927.7 318.0,927.0 319.5,926.2 321.0,925.5 322.5,924.8 324.0,924.0 325.6,923.3 327.2,922.7 328.7,922.0 330.0,921.0 330.9,919.6 331.5,918.0 332.1,916.4 333.0,915.0 334.3,914.0 335.8,913.3 337.4,912.7 339.0,912.0 340.6,911.2 342.2,910.5 343.7,909.8 345.0,909.0 346.5,907.7 348.0,906.0 349.3,904.6 350.8,903.0 352.4,901.4 354.0,900.0 355.5,899.0 357.0,898.3 358.5,897.7 360.0,897.0 361.6,896.3 363.2,895.7 364.7,895.0 366.0,894.0 366.9,892.6 367.5,891.0 368.1,889.4 369.0,888.0 370.3,887.1 371.8,886.5 373.4,885.9 375.0,885.0 376.5,883.6 378.0,882.0 379.5,880.4 381.0,879.0 382.6,878.1 384.2,877.5 385.7,876.9 387.0,876.0 387.9,874.7 388.5,873.2 389.1,871.6 390.0,870.0 391.3,868.4 392.8,866.8 394.4,865.3 396.0,864.0 397.6,863.1 399.2,862.5 400.7,861.9 402.0,861.0 402.9,859.7 403.5,858.2 404.1,856.6 405.0,855.0 406.3,853.5 407.8,852.0 409.4,850.5 411.0,849.0 412.5,847.6 414.0,846.2 415.5,844.7 417.0,843.0 418.0,841.6 419.1,840.1 420.2,838.5 421.2,836.9 422.2,835.4 423.0,834.0 423.9,832.4 424.5,831.0 425.1,829.6 426.0,828.0 426.8,826.7 427.8,825.2 428.8,823.7 429.9,822.1 431.0,820.5 432.0,819.0 433.0,817.5 434.1,816.1 435.2,814.7 436.2,813.2 437.2,811.7 438.0,810.0 438.5,808.6 438.9,807.2 439.2,805.7 439.5,804.2 439.8,802.6 440.1,801.1 440.5,799.5 441.0,798.0 441.6,796.5 442.3,795.1 443.0,793.6 443.8,792.2 444.6,790.7 445.4,789.2 446.2,787.6 447.0,786.0 447.6,784.6 448.2,783.3 448.8,781.9 449.4,780.5 450.0,779.1 450.6,777.6 451.2,776.0 451.8,774.4 452.4,772.8 453.0,771.0 453.4,769.7 453.9,768.3 454.3,766.9 454.8,765.4 455.3,763.9 455.7,762.4 456.2,760.9 456.6,759.3 457.1,757.7 457.5,756.2 457.9,754.6 458.3,753.1 458.7,751.5 459.0,750.0 459.3,748.5 459.6,747.1 459.8,745.7 460.0,744.3 460.2,742.9 460.3,741.5 460.5,740.1 460.7,738.6 460.8,737.2 461.0,735.7 461.2,734.1 461.4,732.5 461.7,730.8 462.0,729.0 462.2,727.7 462.5,726.4 462.7,725.0 463.0,723.7 463.3,722.3 463.6,720.9 463.9,719.4 464.2,717.9 464.5,716.4 464.8,714.9 465.1,713.4 465.5,711.9 465.8,710.3 466.1,708.7 466.4,707.1 466.8,705.5 467.1,703.9 467.4,702.3 467.7,700.6 468.0,699.0 468.3,697.6 468.5,696.2 468.8,694.8 469.0,693.5 469.3,692.0 469.6,690.6 469.8,689.2 470.1,687.8 470.4,686.3 470.7,684.9 470.9,683.4 471.2,681.9 471.5,680.4 471.7,678.9 472.0,677.4 472.2,675.9 472.5,674.3 472.7,672.8 472.9,671.2 473.2,669.6 473.4,668.0 473.6,666.3 473.8,664.7 474.0,663.0 474.1,661.7 474.3,660.3 474.4,659.0 474.5,657.6 474.6,656.3 474.7,654.9 474.8,653.6 474.9,652.2 475.0,650.8 475.1,649.4 475.2,648.1 475.3,646.7 475.3,645.2 475.4,643.8 475.5,642.4 475.6,640.9 475.7,639.4 475.7,637.9 475.8,636.4 475.9,634.9 476.0,633.3 476.1,631.7 476.2,630.1 476.3,628.5 476.4,626.8 476.5,625.1 476.6,623.4 476.7,621.6 476.9,619.8 477.0,618.0 477.1,616.7 477.2,615.5 477.3,614.2 477.4,612.9 477.5,611.6 477.7,610.2 477.8,608.9 477.9,607.6 478.0,606.2 478.2,604.8 478.3,603.5 478.4,602.1 478.6,600.7 478.7,599.3 478.8,597.9 479.0,596.4 479.1,595.0 479.2,593.5 479.4,592.1 479.5,590.6 479.7,589.1 479.8,587.6 480.0,586.1 480.1,584.6 480.3,583.1 480.4,581.5 480.5,580.0 480.7,578.4 480.8,576.9 481.0,575.3 481.1,573.7 481.3,572.1 481.4,570.5 481.6,568.8 481.7,567.2 481.9,565.6 482.0,563.9 482.2,562.2 482.3,560.6 482.4,558.9 482.6,557.2 482.7,555.5 482.9,553.7 483.0,552.0 483.1,550.7 483.2,549.4 483.3,548.0 483.4,546.7 483.5,545.3 483.6,544.0 483.7,542.7 483.8,541.3 483.9,539.9 484.0,538.6 484.1,537.2 484.2,535.8 484.3,534.4 484.4,533.1 484.6,531.7 484.7,530.3 484.8,528.9 484.9,527.4 485.0,526.0 485.1,524.6 485.2,523.2 485.3,521.7 485.4,520.3 485.5,518.8 485.6,517.4 485.7,515.9 485.8,514.5 485.9,513.0 486.0,511.5 486.1,510.0 486.2,508.5 486.3,507.0 486.4,505.5 486.5,504.0 486.6,502.4 486.7,500.9 486.8,499.4 486.9,497.8 487.0,496.3 487.1,494.7 487.2,493.1 487.3,491.5 487.4,489.9 487.6,488.3 487.7,486.7 487.8,485.1 487.9,483.5 488.0,481.9 488.1,480.2 488.2,478.6 488.3,476.9 488.4,475.2 488.5,473.5 488.6,471.9 488.7,470.2 488.8,468.4 488.9,466.7 489.0,465.0 489.1,463.7 489.2,462.3 489.2,461.0 489.3,459.6 489.4,458.2 489.5,456.9 489.6,455.5 489.6,454.1 489.7,452.6 489.8,451.2 489.9,449.8 490.0,448.4 490.1,446.9 490.1,445.4 490.2,444.0 490.3,442.5 490.4,441.0 490.5,439.5 490.6,438.0 490.7,436.5 490.7,435.0 490.8,433.5 490.9,432.0 491.0,430.5 491.1,429.0 491.2,427.4 491.3,425.9 491.3,424.3 491.4,422.8 491.5,421.2 491.6,419.7 491.7,418.1 491.8,416.6 491.9,415.0 491.9,413.5 492.0,411.9 492.1,410.3 492.2,408.8 492.3,407.2 492.4,405.6 492.4,404.0 492.5,402.5 492.6,400.9 492.7,399.3 492.8,397.8 492.8,396.2 492.9,394.6 493.0,393.1 493.1,391.5 493.2,389.9 493.2,388.4 493.3,386.8 493.4,385.3 493.5,383.7 493.6,382.2 493.6,380.6 493.7,379.1 493.8,377.5 493.9,376.0 493.9,374.5 494.0,373.0 494.1,371.5 494.1,369.9 494.2,368.4 494.3,366.9 494.4,365.5 494.4,364.0 494.5,362.5 494.6,361.0 494.6,359.6 494.7,358.1 494.8,356.7 494.8,355.2 494.9,353.8 494.9,352.4 495.0,351.0 495.1,349.4 495.1,347.7 495.2,346.0 495.3,344.3 495.3,342.6 495.4,340.9 495.4,339.1 495.5,337.3 495.5,335.5 495.6,333.7 495.6,331.8 495.7,330.0 495.7,328.1 495.8,326.2 495.8,324.4 495.9,322.5 495.9,320.6 496.0,318.7 496.0,316.8 496.0,314.9 496.1,313.0 496.1,311.1 496.1,309.2 496.2,307.3 496.2,305.5 496.3,303.6 496.3,301.7 496.3,299.9 496.4,298.0 496.4,296.2 496.4,294.4 496.5,292.6 496.5,290.8 496.5,289.1 496.6,287.3 496.6,285.6 496.6,283.9 496.7,282.3 496.7,280.6 496.7,279.0 496.8,277.4 496.8,275.9 496.9,274.4 496.9,272.9 496.9,271.4 497.0,270.0 497.0,268.7 497.0,267.3 497.1,266.1 497.1,264.8 497.2,263.6 497.2,262.5 497.3,261.4 497.3,260.3 497.4,259.3 497.4,258.3 497.5,257.4 497.5,256.6 497.6,255.8 497.6,255.1 497.7,254.4 497.7,253.8 497.8,253.3 497.9,252.8 497.9,252.4 498.0,252.0 498.1,251.5 498.2,251.2 498.4,251.1 498.5,251.1 498.6,251.3 498.8,251.6 498.9,252.1 499.1,252.7 499.2,253.4 499.4,254.2 499.5,255.2 499.7,256.3 499.8,257.5 500.0,258.8 500.2,260.2 500.3,261.8 500.5,263.4 500.6,265.0 500.8,266.8 501.0,268.7 501.1,270.6 501.3,272.5 501.5,274.6 501.7,276.7 501.8,278.8 502.0,281.0 502.2,283.3 502.3,285.5 502.5,287.8 502.7,290.1 502.9,292.5 503.0,294.8 503.2,297.2 503.4,299.6 503.5,301.9 503.7,304.3 503.8,306.7 504.0,309.0 504.1,310.1 504.2,311.3 504.2,312.4 504.3,313.6 504.4,314.8 504.5,316.0 504.5,317.3 504.6,318.6 504.7,319.8 504.8,321.1 504.8,322.5 504.9,323.8 505.0,325.2 505.0,326.6 505.1,327.9 505.2,329.4 505.3,330.8 505.3,332.2 505.4,333.7 505.5,335.1 505.6,336.6 505.7,338.1 505.7,339.6 505.8,341.1 505.9,342.7 506.0,344.2 506.0,345.7 506.1,347.3 506.2,348.9 506.2,350.4 506.3,352.0 506.4,353.6 506.5,355.2 506.5,356.8 506.6,358.4 506.7,360.0 506.8,361.7 506.8,363.3 506.9,364.9 507.0,366.6 507.1,368.2 507.2,369.8 507.2,371.5 507.3,373.1 507.4,374.8 507.5,376.4 507.5,378.1 507.6,379.7 507.7,381.3 507.8,383.0 507.8,384.6 507.9,386.3 508.0,387.9 508.0,389.5 508.1,391.2 508.2,392.8 508.3,394.4 508.3,396.0 508.4,397.6 508.5,399.2 508.6,400.8 508.7,402.4 508.7,404.0 508.8,405.5 508.9,407.1 509.0,408.6 509.0,410.2 509.1,411.7 509.2,413.2 509.2,414.7 509.3,416.2 509.4,417.7 509.5,419.2 509.5,420.6 509.6,422.0 509.7,423.5 509.8,424.9 509.8,426.3 509.9,427.6 510.0,429.0 510.1,430.7 510.2,432.4 510.3,434.0 510.4,435.7 510.5,437.4 510.6,439.0 510.7,440.7 510.8,442.3 510.9,444.0 511.0,445.6 511.1,447.2 511.2,448.9 511.3,450.5 511.4,452.1 511.5,453.7 511.6,455.3 511.7,456.9 511.8,458.5 511.9,460.1 512.0,461.7 512.1,463.3 512.2,464.8 512.3,466.4 512.4,467.9 512.5,469.5 512.6,471.0 512.7,472.6 512.8,474.1 512.9,475.6 513.0,477.2 513.1,478.7 513.2,480.2 513.3,481.7 513.4,483.2 513.5,484.7 513.6,486.2 513.7,487.6 513.8,489.1 513.9,490.6 514.0,492.0 514.1,493.5 514.2,494.9 514.3,496.4 514.3,497.8 514.4,499.2 514.5,500.6 514.6,502.1 514.7,503.5 514.8,504.9 514.9,506.3 515.0,507.6 515.1,509.0 515.1,510.4 515.2,511.7 515.3,513.1 515.4,514.5 515.5,515.8 515.6,517.1 515.6,518.5 515.7,519.8 515.8,521.1 515.9,522.4 515.9,523.7 516.0,525.0 516.1,526.8 516.2,528.6 516.3,530.3 516.4,532.1 516.4,533.8 516.5,535.5 516.6,537.2 516.7,538.9 516.7,540.5 516.8,542.2 516.9,543.8 516.9,545.5 517.0,547.1 517.0,548.7 517.1,550.3 517.1,551.8 517.2,553.4 517.3,554.9 517.3,556.5 517.4,558.0 517.4,559.5 517.5,561.0 517.5,562.5 517.5,564.0 517.6,565.4 517.6,566.9 517.7,568.3 517.7,569.8 517.8,571.2 517.9,572.6 517.9,574.0 518.0,575.4 518.0,576.8 518.1,578.2 518.1,579.5 518.2,580.9 518.3,582.2 518.3,583.6 518.4,584.9 518.5,586.2 518.6,587.5 518.6,588.9 518.7,590.2 518.8,591.4 518.9,592.7 519.0,594.0 519.1,595.8 519.3,597.6 519.4,599.4 519.6,601.1 519.8,602.8 519.9,604.5 520.1,606.1 520.3,607.8 520.5,609.4 520.7,611.0 520.8,612.5 521.0,614.1 521.2,615.6 521.4,617.1 521.6,618.6 521.8,620.1 522.0,621.5 522.2,623.0 522.4,624.4 522.6,625.8 522.8,627.2 523.0,628.6 523.2,630.0 523.4,631.3 523.6,632.7 523.8,634.0 524.0,635.4 524.2,636.7 524.4,638.0 524.6,639.4 524.8,640.7 525.0,642.0 525.3,643.7 525.5,645.4 525.8,647.1 526.0,648.8 526.3,650.4 526.6,652.1 526.8,653.6 527.1,655.2 527.4,656.8 527.7,658.3 527.9,659.8 528.2,661.3 528.5,662.8 528.7,664.2 529.0,665.7 529.2,667.1 529.5,668.5 529.7,669.9 529.9,671.3 530.2,672.7 530.4,674.0 530.6,675.4 530.8,676.7 531.0,678.0 531.2,679.7 531.4,681.4 531.6,683.1 531.8,684.8 532.0,686.4 532.1,688.0 532.2,689.6 532.4,691.1 532.5,692.6 532.6,694.1 532.8,695.6 532.9,697.0 533.0,698.4 533.2,699.8 533.4,701.1 533.6,702.4 533.8,703.7 534.0,705.0 534.4,706.8 534.8,708.6 535.3,710.2 535.8,711.8 536.3,713.3 536.8,714.8 537.3,716.2 537.9,717.6 538.4,718.9 539.0,720.3 539.5,721.6 540.0,723.0 540.6,724.6 541.2,726.3 541.8,727.9 542.4,729.5 543.0,731.1 543.6,732.6 544.2,734.0 544.8,735.4 545.4,736.8 546.0,738.0 547.0,739.8 548.1,741.4 549.2,742.9 550.2,744.2 551.2,745.6 552.0,747.0 552.6,748.5 553.1,750.1 553.5,751.7 553.9,753.2 554.4,754.7 555.0,756.0 556.3,757.8 557.8,759.4 559.4,760.8 561.0,762.0 562.6,763.0 564.2,763.7 565.7,764.3 567.0,765.0 568.5,766.5 570.0,768.0 571.3,768.8 572.8,769.7 574.4,770.5 576.0,771.0 577.5,771.1 579.0,771.0 580.5,770.9 582.0,771.0 583.6,771.6 585.2,772.5 586.7,773.4 588.0,774.0 589.5,774.2 591.0,774.0 592.3,774.0 593.8,774.0 595.4,774.0 597.0,774.0 598.6,774.1 600.2,774.2 601.7,774.2 603.0,774.0 604.5,772.5 606.0,771.0 607.3,770.8 608.8,770.8 610.4,770.9 612.0,771.0 613.5,771.1 615.0,771.2 616.5,771.2 618.0,771.0 619.6,770.4 621.2,769.5 622.7,768.6 624.0,768.0 625.5,768.0 627.0,768.0 628.3,767.4 629.8,766.5 631.4,765.6 633.0,765.0 634.5,764.9 636.0,765.0 637.5,765.1 639.0,765.0 640.6,764.4 642.2,763.5 643.7,762.6 645.0,762.0 646.5,762.0 648.0,762.0 649.3,761.4 650.8,760.5 652.4,759.6 654.0,759.0 655.6,758.9 657.2,759.0 658.7,759.1 660.0,759.0 661.5,757.5 663.0,756.0 664.3,755.9 665.8,756.0 667.4,756.1 669.0,756.0 670.5,755.5 672.0,754.7 673.5,753.8 675.0,753.0 676.6,752.2 678.2,751.3 679.7,750.5 681.0,750.0 682.5,750.0 684.0,750.0 685.3,749.5 686.8,748.7 688.4,747.8 690.0,747.0 691.6,746.2 693.2,745.3 694.7,744.5 696.0,744.0 697.5,744.0 699.0,744.0 700.3,743.4 701.8,742.5 703.4,741.6 705.0,741.0 706.5,740.9 708.0,741.0 709.5,741.1 711.0,741.0 712.6,740.5 714.2,739.7 715.7,738.8 717.0,738.0 718.5,736.3 720.0,735.0 721.3,734.9 722.8,735.0 724.4,735.1 726.0,735.0 727.5,734.5 729.0,733.7 730.5,732.8 732.0,732.0 733.6,731.2 735.2,730.3 736.7,729.5 738.0,729.0 739.5,729.0 741.0,729.0 742.3,728.4 743.8,727.5 745.4,726.6 747.0,726.0 748.6,725.9 750.2,726.0 751.7,726.1 753.0,726.0 754.5,724.7 756.0,723.0 757.3,722.2 758.8,721.3 760.4,720.5 762.0,720.0 763.5,719.9 765.0,720.0 766.5,720.1 768.0,720.0 769.6,719.5 771.2,718.7 772.7,717.8 774.0,717.0 775.5,715.3 777.0,714.0 778.3,713.9 779.8,714.0 781.4,714.1 783.0,714.0 784.6,713.4 786.2,712.5 787.7,711.6 789.0,711.0 790.5,711.0 792.0,711.0 793.3,710.5 794.8,709.7 796.4,708.8 798.0,708.0 799.5,707.2 801.0,706.3 802.5,705.5 804.0,705.0 805.6,704.9 807.2,705.0 808.7,705.1 810.0,705.0 811.5,703.5 813.0,702.0 814.3,701.9 815.8,702.0 817.4,702.1 819.0,702.0 820.6,701.5 822.2,700.7 823.7,699.8 825.0,699.0 826.5,697.3 828.0,696.0 829.3,695.9 830.8,696.0 832.4,696.1 834.0,696.0 835.5,695.4 837.0,694.5 838.5,693.6 840.0,693.0 841.6,692.9 843.2,693.0 844.7,693.1 846.0,693.0 847.5,691.7 849.0,690.0 850.3,689.2 851.8,688.3 853.4,687.5 855.0,687.0 856.5,686.9 858.0,687.0 859.5,687.1 861.0,687.0 862.6,686.4 864.2,685.5 865.7,684.6 867.0,684.0 868.5,684.0 870.0,684.0 871.3,683.5 872.8,682.7 874.4,681.8 876.0,681.0 877.6,680.2 879.2,679.3 880.7,678.5 882.0,678.0 883.5,678.0 885.0,678.0 886.3,677.4 887.8,676.5 889.4,675.6 891.0,675.0 892.5,674.9 894.0,675.0 895.5,675.1 897.0,675.0 898.6,674.4 900.2,673.5 901.7,672.6 903.0,672.0 904.5,672.0 906.0,672.0 907.3,671.4 908.8,670.5 910.4,669.6 912.0,669.0 913.6,668.9 915.2,669.0 916.7,669.1 918.0,669.0 919.5,667.7 921.0,666.0 922.3,665.2 923.8,664.3 925.4,663.5 927.0,663.0 928.5,662.9 930.0,663.0 931.5,663.1 933.0,663.0 934.6,662.4 936.2,661.5 937.7,660.6 939.0,660.0 940.5,660.0 942.0,660.0 943.3,659.4 944.8,658.5 946.4,657.6 948.0,657.0 949.6,656.9 951.2,657.0 952.7,657.1 954.0,657.0 955.5,655.5 957.0,654.0 958.3,653.9 959.8,654.0 961.4,654.1 963.0,654.0 964.5,653.4 966.0,652.5 967.5,651.6 969.0,651.0 970.6,650.9 972.2,651.0 973.7,651.1 975.0,651.0 976.5,649.5 978.0,648.0 979.3,647.9 980.8,648.0 982.4,648.1 984.0,648.0 985.5,647.5 987.0,646.7 988.5,645.8 990.0,645.0 991.6,644.2 993.2,643.3 994.7,642.5 996.0,642.0 997.5,642.0 999.0,642.0 1000.3,641.4 1001.8,640.5 1003.4,639.6 1005.0,639.0 1006.6,638.9 1008.2,639.0 1009.7,639.1 1011.0,639.0 1012.5,637.5 1014.0,636.0 1015.3,635.9 1016.8,636.0 1018.4,636.1 1020.0,636.0 1021.5,635.4 1023.0,634.5 1024.5,633.6 1026.0,633.0 1027.6,632.9 1029.2,633.0 1030.7,633.1 1032.0,633.0 1033.5,631.5 1035.0,630.0 1036.3,629.9 1037.8,630.0 1039.4,630.1 1041.0,630.0 1042.6,629.4 1044.2,628.5 1045.7,627.6 1047.0,627.0 1048.5,627.0 1050.0,627.0 1051.3,626.4 1052.8,625.5 1054.4,624.6 1056.0,624.0 1057.5,623.9 1059.0,624.0 1060.5,624.1 1062.0,624.0 1063.6,623.4 1065.2,622.5 1066.7,621.6 1068.0,621.0 1069.5,621.0 1071.0,621.0 1072.3,620.4 1073.8,619.5 1075.4,618.6 1077.0,618.0 1078.6,617.8 1080.2,617.8 1081.7,617.9 1083.0,618.0 1084.5,618.2 1086.0,618.0 1087.3,617.4 1088.8,616.5 1090.4,615.6 1092.0,615.0 1093.5,614.9 1095.0,615.0 1096.5,615.1 1098.0,615.0 1099.6,614.4 1101.2,613.5 1102.7,612.6 1104.0,612.0 1105.5,612.0 1107.0,612.0 1108.3,611.4 1109.8,610.5 1111.4,609.6 1113.0,609.0 1114.5,608.9 1116.0,609.0 1117.5,609.1 1119.0,609.0 1120.6,608.4 1122.2,607.5 1123.7,606.6 1125.0,606.0 1126.5,606.0 1128.0,606.0 1129.3,605.4 1130.8,604.5 1132.4,603.6 1134.0,603.0 1135.6,602.9 1137.2,603.0 1138.7,603.1 1140.0,603.0 1141.5,601.5 1143.0,600.0 1144.3,599.9 1145.8,600.0 1147.4,600.1 1149.0,600.0 1150.5,599.4 1152.0,598.5 1153.5,597.6 1155.0,597.0 1156.6,596.8 1158.2,596.8 1159.7,596.9 1161.0,597.0 1162.5,597.2 1164.0,597.0 1165.3,596.4 1166.8,595.5 1168.4,594.6 1170.0,594.0 1171.6,593.9 1173.2,594.0 1174.7,594.1 1176.0,594.0 1177.5,592.5 1179.0,591.0 1180.4,590.8 1182.2,590.8 1183.9,590.9 1185.0,591.0" stroke="#660000" stroke-width="2" fill="none" stroke-linejoin="round"/>
<rect x="156.5" y="153.5" width="1032" height="1002" fill="none" stroke="#000" stroke-width="1"/>
<text transform="matrix(1 0 0 1.045 87.97 953.90)" font-size="39.00">10</text>
<text transform="matrix(1 0 0 1.030 131.57 935.70)" font-size="26.60">2</text>
<text transform="matrix(1 0 0 1.045 87.97 590.90)" font-size="39.00">10</text>
<text transform="matrix(1 0 0 1.030 131.84 570.40)" font-size="26.60">3</text>
<text transform="matrix(1 0 0 1.045 87.97 230.90)" font-size="39.00">10</text>
<text transform="matrix(1 0 0 1.030 132.37 212.70)" font-size="26.60">4</text>
<text transform="matrix(1 0 0 1.040 143.92 1196.80)" font-size="39.20">0</text>
<text transform="matrix(1 0 0 1.040 297.61 1196.80)" font-size="39.20">0.5</text>
<text transform="matrix(1 0 0 1.040 491.44 1196.80)" font-size="39.20">1</text>
<text transform="matrix(1 0 0 1.040 642.37 1196.80)" font-size="39.20">1.5</text>
<text transform="matrix(1 0 0 1.040 830.87 1196.80)" font-size="39.20">2</text>
<text transform="matrix(1 0 0 1.040 987.41 1196.80)" font-size="39.20">2.5</text>
<text transform="matrix(1 0 0 1.040 1175.72 1196.80)" font-size="39.20">3</text>
<rect x="621" y="403" width="549" height="8" fill="#000"/>
<rect x="1162" y="291" width="8" height="120" fill="#000"/>
<rect x="606.5" y="276.5" width="555" height="126" fill="#cccc99" stroke="#000" stroke-width="1"/>
<text transform="matrix(1 0 0 1.058 683.87 357.00)" font-size="42.09" font-weight="bold" fill="#660000">Minuit2 CPU= 0.04 s</text>
<rect x="828.5" y="528.5" width="462" height="603" fill="#fff" stroke="#000" stroke-width="1"/>
<path d="M828 582.5 H1291" stroke="#000" stroke-width="1"/>
<text transform="matrix(1 0 0 1.062 980.95 572.90)" font-size="46.00">Minuit2</text>
<text transform="matrix(1 0 0 1.055 849.20 626.90)" font-size="30.80">Entries</text>
<text transform="matrix(1 0 0 1.055 849.20 681.00)" font-size="30.80">Mean</text>
<text transform="matrix(1 0 0 1.055 849.20 735.00)" font-size="30.80">Std Dev</text>
<text transform="matrix(0.8 0 0 1 850.45 785.7)" font-size="29.6" font-family="'DejaVu Sans', 'Liberation Sans', sans-serif" font-style="oblique">&#967;</text>
<text transform="matrix(1 0 0 1.000 866.45 774.00)" font-size="21.00">2</text>
<text transform="matrix(1 0 0 1.055 887.60 786.50)" font-size="30.80">/ ndf</text>
<text transform="matrix(1 0 0 1.055 849.20 839.50)" font-size="30.80">p0</text>
<text transform="matrix(1 0 0 1.055 849.20 894.00)" font-size="30.80">p1</text>
<text transform="matrix(1 0 0 1.055 849.20 948.20)" font-size="30.80">p2</text>
<text transform="matrix(1 0 0 1.055 849.20 1002.00)" font-size="30.80">p3</text>
<text transform="matrix(1 0 0 1.055 849.20 1059.30)" font-size="30.80">p4</text>
<text transform="matrix(1 0 0 1.055 849.20 1113.00)" font-size="30.80">p5</text>
<text transform="matrix(1 0 0 1.055 1158.06 623.50)" font-size="30.80">100000</text>
<text transform="matrix(1 0 0 1.055 1185.34 681.10)" font-size="30.80">1.777</text>
<text transform="matrix(1 0 0 1.055 1167.49 732.80)" font-size="30.80">0.7752</text>
<text transform="matrix(1 0 0 1.055 1104.52 789.30)" font-size="30.80">205.3 / 194</text>
<text transform="matrix(1 0 0 1.055 1089.13 843.00)" font-size="30.80">51.36</text>
<text transform="matrix(1 0 0 1.040 1180.98 843.00)" font-size="34.00">&#177;</text>
<text transform="matrix(1 0 0 1.055 1207.96 843.00)" font-size="30.80">2.01</text>
<text transform="matrix(1 0 0 1.055 1089.44 897.00)" font-size="30.80">55.82</text>
<text transform="matrix(1 0 0 1.040 1180.98 897.00)" font-size="34.00">&#177;</text>
<text transform="matrix(1 0 0 1.055 1208.88 897.00)" font-size="30.80">4.81</text>
<text transform="matrix(1 0 0 1.055 1124.68 950.60)" font-size="30.80">74.2</text>
<text transform="matrix(1 0 0 1.040 1195.98 950.60)" font-size="34.00">&#177;</text>
<text transform="matrix(1 0 0 1.055 1221.41 950.60)" font-size="30.80">1.9</text>
<text transform="matrix(1 0 0 1.055 1103.83 1004.80)" font-size="30.80">427.3</text>
<text transform="matrix(1 0 0 1.040 1195.98 1004.80)" font-size="34.00">&#177;</text>
<text transform="matrix(1 0 0 1.055 1223.26 1004.80)" font-size="30.80">2.9</text>
<text transform="matrix(1 0 0 1.055 993.54 1062.00)" font-size="30.80">0.03586</text>
<text transform="matrix(1 0 0 1.040 1120.88 1062.00)" font-size="34.00">&#177;</text>
<text transform="matrix(1 0 0 1.055 1148.97 1062.00)" font-size="30.80">0.00035</text>
<text transform="matrix(1 0 0 1.055 1170.70 1116.20)" font-size="30.80">1</text>
<text transform="matrix(1 0 0 1.040 1195.98 1116.20)" font-size="34.00">&#177;</text>
<text transform="matrix(1 0 0 1.055 1223.57 1116.20)" font-size="30.80">0.0</text>
</g>
<g transform="translate(1344 1308)">
<rect x="27" y="27" width="1290" height="1254" fill="#ffffcc"/>
<text transform="matrix(1 0 0 1.035 476.63 87.10)" font-size="54.10">Fumili2 fit bench</text>
<path d="M327.5 153 V1155 M501.5 153 V1155 M672.5 153 V1155 M843.5 153 V1155 M1017.5 153 V1155 M156 1122.5 H1188 M156 1077.5 H1188 M156 1041.5 H1188 M156 1011.5 H1188 M156 987.5 H1188 M156 966.5 H1188 M156 948.5 H1188 M156 933.5 H1188 M156 822.5 H1188 M156 759.5 H1188 M156 714.5 H1188 M156 681.5 H1188 M156 651.5 H1188 M156 627.5 H1188 M156 606.5 H1188 M156 588.5 H1188 M156 570.5 H1188 M156 462.5 H1188 M156 399.5 H1188 M156 354.5 H1188 M156 318.5 H1188 M156 291.5 H1188 M156 264.5 H1188 M156 243.5 H1188 M156 225.5 H1188 M156 210.5 H1188" stroke="#000" stroke-width="1" stroke-dasharray="1 2" fill="none"/>
<path d="M156 1122.5 H172 M156 1077.5 H172 M156 1041.5 H172 M156 1011.5 H172 M156 987.5 H172 M156 966.5 H172 M156 948.5 H172 M156 933.5 H187 M156 822.5 H172 M156 759.5 H172 M156 714.5 H172 M156 681.5 H172 M156 651.5 H172 M156 627.5 H172 M156 606.5 H172 M156 588.5 H172 M156 570.5 H187 M156 462.5 H172 M156 399.5 H172 M156 354.5 H172 M156 318.5 H172 M156 291.5 H172 M156 264.5 H172 M156 243.5 H172 M156 225.5 H172 M156 210.5 H187 M189.5 1156 V1140 M225.5 1156 V1140 M258.5 1156 V1140 M294.5 1156 V1140 M327.5 1156 V1125 M363.5 1156 V1140 M396.5 1156 V1140 M432.5 1156 V1140 M465.5 1156 V1140 M501.5 1156 V1125 M534.5 1156 V1140 M570.5 1156 V1140 M603.5 1156 V1140 M639.5 1156 V1140 M672.5 1156 V1125 M705.5 1156 V1140 M741.5 1156 V1140 M774.5 1156 V1140 M810.5 1156 V1140 M843.5 1156 V1125 M879.5 1156 V1140 M912.5 1156 V1140 M948.5 1156 V1140 M981.5 1156 V1140 M1017.5 1156 V1125 M1050.5 1156 V1140 M1086.5 1156 V1140 M1119.5 1156 V1140 M1155.5 1156 V1140" stroke="#000" stroke-width="1" fill="none"/>
<path d="M156.5 1047.5 H162.5 V1047.5 H165.5 V1023.5 H171.5 V972.5 H177.5 V1011.5 H183.5 V1029.5 H186.5 V981.5 H192.5 V1017.5 H198.5 V1020.5 H201.5 V1029.5 H207.5 V990.5 H213.5 V999.5 H219.5 V1005.5 H222.5 V981.5 H228.5 V957.5 H234.5 V975.5 H237.5 V987.5 H243.5 V972.5 H249.5 V963.5 H255.5 V960.5 H258.5 V966.5 H264.5 V951.5 H270.5 V960.5 H276.5 V936.5 H279.5 V951.5 H285.5 V957.5 H291.5 V945.5 H294.5 V936.5 H300.5 V912.5 H306.5 V918.5 H312.5 V930.5 H315.5 V906.5 H321.5 V939.5 H327.5 V951.5 H330.5 V906.5 H336.5 V921.5 H342.5 V921.5 H348.5 V894.5 H351.5 V885.5 H357.5 V891.5 H363.5 V882.5 H369.5 V894.5 H372.5 V882.5 H378.5 V888.5 H384.5 V867.5 H387.5 V882.5 H393.5 V861.5 H399.5 V855.5 H405.5 V882.5 H408.5 V855.5 H414.5 V825.5 H420.5 V852.5 H423.5 V825.5 H429.5 V807.5 H435.5 V834.5 H441.5 V810.5 H444.5 V783.5 H450.5 V777.5 H456.5 V759.5 H459.5 V723.5 H465.5 V696.5 H471.5 V663.5 H477.5 V636.5 H480.5 V564.5 H486.5 V465.5 H492.5 V342.5 H498.5 V255.5 H501.5 V306.5 H507.5 V426.5 H513.5 V522.5 H516.5 V600.5 H522.5 V645.5 H528.5 V681.5 H534.5 V714.5 H537.5 V723.5 H543.5 V750.5 H549.5 V750.5 H552.5 V750.5 H558.5 V744.5 H564.5 V777.5 H570.5 V783.5 H573.5 V780.5 H579.5 V786.5 H585.5 V774.5 H588.5 V783.5 H594.5 V783.5 H600.5 V777.5 H606.5 V777.5 H609.5 V780.5 H615.5 V753.5 H621.5 V762.5 H627.5 V768.5 H630.5 V765.5 H636.5 V762.5 H642.5 V783.5 H645.5 V756.5 H651.5 V750.5 H657.5 V747.5 H663.5 V753.5 H666.5 V759.5 H672.5 V747.5 H678.5 V750.5 H681.5 V750.5 H687.5 V744.5 H693.5 V741.5 H699.5 V735.5 H702.5 V741.5 H708.5 V744.5 H714.5 V729.5 H717.5 V732.5 H723.5 V726.5 H729.5 V732.5 H735.5 V732.5 H738.5 V720.5 H744.5 V735.5 H750.5 V723.5 H756.5 V708.5 H759.5 V720.5 H765.5 V720.5 H771.5 V720.5 H774.5 V708.5 H780.5 V711.5 H786.5 V711.5 H792.5 V711.5 H795.5 V705.5 H801.5 V708.5 H807.5 V693.5 H810.5 V705.5 H816.5 V693.5 H822.5 V690.5 H828.5 V711.5 H831.5 V696.5 H837.5 V693.5 H843.5 V696.5 H846.5 V687.5 H852.5 V690.5 H858.5 V690.5 H864.5 V693.5 H867.5 V669.5 H873.5 V678.5 H879.5 V687.5 H885.5 V666.5 H888.5 V675.5 H894.5 V672.5 H900.5 V678.5 H903.5 V675.5 H909.5 V672.5 H915.5 V663.5 H921.5 V666.5 H924.5 V666.5 H930.5 V660.5 H936.5 V663.5 H939.5 V660.5 H945.5 V666.5 H951.5 V657.5 H957.5 V651.5 H960.5 V654.5 H966.5 V663.5 H972.5 V651.5 H975.5 V663.5 H981.5 V645.5 H987.5 V639.5 H993.5 V636.5 H996.5 V645.5 H1002.5 V636.5 H1008.5 V648.5 H1014.5 V642.5 H1017.5 V642.5 H1023.5 V636.5 H1029.5 V627.5 H1032.5 V633.5 H1038.5 V621.5 H1044.5 V633.5 H1050.5 V621.5 H1053.5 V633.5 H1059.5 V636.5 H1065.5 V618.5 H1068.5 V621.5 H1074.5 V615.5 H1080.5 V618.5 H1086.5 V615.5 H1089.5 V624.5 H1095.5 V612.5 H1101.5 V618.5 H1107.5 V618.5 H1110.5 V603.5 H1116.5 V609.5 H1122.5 V612.5 H1125.5 V597.5 H1131.5 V606.5 H1137.5 V597.5 H1143.5 V600.5 H1146.5 V600.5 H1152.5 V615.5 H1158.5 V591.5 H1161.5 V606.5 H1167.5 V591.5 H1173.5 V600.5 H1179.5 V591.5 H1182.5 V582.5 H1188.5" stroke="#000099" stroke-width="1" fill="none"/>
<polyline points="159.0,1029.0 160.1,1028.5 161.8,1027.7 163.6,1026.8 165.0,1026.0 166.5,1024.5 168.0,1023.0 169.3,1022.2 170.8,1021.5 172.4,1020.8 174.0,1020.0 175.6,1019.2 177.2,1018.5 178.7,1017.8 180.0,1017.0 181.5,1015.5 183.0,1014.0 184.3,1013.2 185.8,1012.5 187.4,1011.8 189.0,1011.0 190.5,1010.2 192.0,1009.5 193.5,1008.8 195.0,1008.0 196.6,1007.2 198.2,1006.5 199.7,1005.8 201.0,1005.0 202.5,1003.5 204.0,1002.0 205.3,1001.2 206.8,1000.5 208.4,999.8 210.0,999.0 211.6,998.2 213.2,997.5 214.7,996.8 216.0,996.0 217.5,994.5 219.0,993.0 220.3,992.2 221.8,991.5 223.4,990.8 225.0,990.0 226.5,989.2 228.0,988.5 229.5,987.8 231.0,987.0 232.6,986.3 234.2,985.7 235.7,985.0 237.0,984.0 237.9,982.6 238.5,981.0 239.1,979.4 240.0,978.0 241.3,977.0 242.8,976.3 244.4,975.7 246.0,975.0 247.5,974.2 249.0,973.5 250.5,972.8 252.0,972.0 253.6,971.2 255.2,970.5 256.7,969.8 258.0,969.0 259.5,967.5 261.0,966.0 262.3,965.2 263.8,964.5 265.4,963.8 267.0,963.0 268.6,962.2 270.2,961.5 271.7,960.8 273.0,960.0 274.5,958.7 276.0,957.0 277.3,955.6 278.8,954.0 280.4,952.4 282.0,951.0 283.5,950.0 285.0,949.3 286.5,948.7 288.0,948.0 289.6,947.2 291.2,946.5 292.7,945.8 294.0,945.0 295.5,943.5 297.0,942.0 298.3,941.2 299.8,940.5 301.4,939.8 303.0,939.0 304.6,938.3 306.2,937.7 307.7,937.0 309.0,936.0 309.9,934.6 310.5,933.0 311.1,931.4 312.0,930.0 313.3,929.0 314.8,928.3 316.4,927.7 318.0,927.0 319.5,926.2 321.0,925.5 322.5,924.8 324.0,924.0 325.6,923.3 327.2,922.7 328.7,922.0 330.0,921.0 330.9,919.6 331.5,918.0 332.1,916.4 333.0,915.0 334.3,914.0 335.8,913.3 337.4,912.7 339.0,912.0 340.6,911.2 342.2,910.5 343.7,909.8 345.0,909.0 346.5,907.7 348.0,906.0 349.3,904.6 350.8,903.0 352.4,901.4 354.0,900.0 355.5,899.0 357.0,898.3 358.5,897.7 360.0,897.0 361.6,896.3 363.2,895.7 364.7,895.0 366.0,894.0 366.9,892.6 367.5,891.0 368.1,889.4 369.0,888.0 370.3,887.1 371.8,886.5 373.4,885.9 375.0,885.0 376.5,883.6 378.0,882.0 379.5,880.4 381.0,879.0 382.6,878.1 384.2,877.5 385.7,876.9 387.0,876.0 387.9,874.6 388.5,873.0 389.1,871.4 390.0,870.0 391.3,869.1 392.8,868.5 394.4,867.9 396.0,867.0 397.6,865.7 399.2,864.2 400.7,862.6 402.0,861.0 402.9,859.5 403.5,858.0 404.1,856.5 405.0,855.0 406.3,853.5 407.8,852.0 409.4,850.5 411.0,849.0 412.5,847.6 414.0,846.2 415.5,844.7 417.0,843.0 418.0,841.6 419.1,840.1 420.2,838.5 421.2,836.9 422.2,835.4 423.0,834.0 423.9,832.4 424.5,831.0 425.1,829.6 426.0,828.0 426.8,826.7 427.8,825.2 428.8,823.7 429.9,822.1 431.0,820.5 432.0,819.0 433.0,817.5 434.1,816.1 435.2,814.7 436.2,813.2 437.2,811.7 438.0,810.0 438.5,808.6 438.9,807.2 439.2,805.7 439.5,804.2 439.8,802.6 440.1,801.1 440.5,799.5 441.0,798.0 441.6,796.5 442.3,795.1 443.0,793.6 443.8,792.2 444.6,790.7 445.4,789.2 446.2,787.6 447.0,786.0 447.6,784.6 448.2,783.3 448.8,781.9 449.4,780.5 450.0,779.1 450.6,777.6 451.2,776.0 451.8,774.4 452.4,772.8 453.0,771.0 453.4,769.7 453.9,768.3 454.3,766.9 454.8,765.4 455.3,763.9 455.7,762.4 456.2,760.9 456.6,759.3 457.1,757.7 457.5,756.2 457.9,754.6 458.3,753.1 458.7,751.5 459.0,750.0 459.3,748.5 459.6,747.1 459.8,745.7 460.0,744.3 460.2,742.9 460.3,741.5 460.5,740.1 460.7,738.6 460.8,737.2 461.0,735.7 461.2,734.1 461.4,732.5 461.7,730.8 462.0,729.0 462.2,727.7 462.5,726.4 462.7,725.0 463.0,723.7 463.3,722.3 463.6,720.9 463.9,719.4 464.2,717.9 464.5,716.4 464.8,714.9 465.1,713.4 465.5,711.9 465.8,710.3 466.1,708.7 466.4,707.1 466.8,705.5 467.1,703.9 467.4,702.3 467.7,700.6 468.0,699.0 468.3,697.6 468.5,696.2 468.8,694.8 469.0,693.5 469.3,692.0 469.6,690.6 469.8,689.2 470.1,687.8 470.4,686.3 470.7,684.9 470.9,683.4 471.2,681.9 471.5,680.4 471.7,678.9 472.0,677.4 472.2,675.9 472.5,674.3 472.7,672.8 472.9,671.2 473.2,669.6 473.4,668.0 473.6,666.3 473.8,664.7 474.0,663.0 474.1,661.7 474.3,660.3 474.4,659.0 474.5,657.6 474.6,656.3 474.7,654.9 474.8,653.6 474.9,652.2 475.0,650.8 475.1,649.4 475.2,648.1 475.3,646.7 475.3,645.2 475.4,643.8 475.5,642.4 475.6,640.9 475.7,639.4 475.7,637.9 475.8,636.4 475.9,634.9 476.0,633.3 476.1,631.7 476.2,630.1 476.3,628.5 476.4,626.8 476.5,625.1 476.6,623.4 476.7,621.6 476.9,619.8 477.0,618.0 477.1,616.7 477.2,615.5 477.3,614.2 477.4,612.9 477.5,611.6 477.7,610.2 477.8,608.9 477.9,607.6 478.0,606.2 478.2,604.8 478.3,603.5 478.4,602.1 478.6,600.7 478.7,599.3 478.8,597.9 479.0,596.4 479.1,595.0 479.2,593.5 479.4,592.1 479.5,590.6 479.7,589.1 479.8,587.6 480.0,586.1 480.1,584.6 480.3,583.1 480.4,581.5 480.5,580.0 480.7,578.4 480.8,576.9 481.0,575.3 481.1,573.7 481.3,572.1 481.4,570.5 481.6,568.8 481.7,567.2 481.9,565.6 482.0,563.9 482.2,562.2 482.3,560.6 482.4,558.9 482.6,557.2 482.7,555.5 482.9,553.7 483.0,552.0 483.1,550.7 483.2,549.4 483.3,548.0 483.4,546.7 483.5,545.3 483.6,544.0 483.7,542.7 483.8,541.3 483.9,539.9 484.0,538.6 484.1,537.2 484.2,535.8 484.3,534.4 484.4,533.1 484.6,531.7 484.7,530.3 484.8,528.9 484.9,527.4 485.0,526.0 485.1,524.6 485.2,523.2 485.3,521.7 485.4,520.3 485.5,518.8 485.6,517.4 485.7,515.9 485.8,514.5 485.9,513.0 486.0,511.5 486.1,510.0 486.2,508.5 486.3,507.0 486.4,505.5 486.5,504.0 486.6,502.4 486.7,500.9 486.8,499.4 486.9,497.8 487.0,496.3 487.1,494.7 487.2,493.1 487.3,491.5 487.4,489.9 487.6,488.3 487.7,486.7 487.8,485.1 487.9,483.5 488.0,481.9 488.1,480.2 488.2,478.6 488.3,476.9 488.4,475.2 488.5,473.5 488.6,471.9 488.7,470.2 488.8,468.4 488.9,466.7 489.0,465.0 489.1,463.7 489.2,462.3 489.2,461.0 489.3,459.6 489.4,458.2 489.5,456.9 489.6,455.5 489.6,454.1 489.7,452.6 489.8,451.2 489.9,449.8 490.0,448.4 490.1,446.9 490.1,445.4 490.2,444.0 490.3,442.5 490.4,441.0 490.5,439.5 490.6,438.0 490.7,436.5 490.7,435.0 490.8,433.5 490.9,432.0 491.0,430.5 491.1,429.0 491.2,427.4 491.3,425.9 491.3,424.3 491.4,422.8 491.5,421.2 491.6,419.7 491.7,418.1 491.8,416.6 491.9,415.0 491.9,413.5 492.0,411.9 492.1,410.3 492.2,408.8 492.3,407.2 492.4,405.6 492.4,404.0 492.5,402.5 492.6,400.9 492.7,399.3 492.8,397.8 492.8,396.2 492.9,394.6 493.0,393.1 493.1,391.5 493.2,389.9 493.2,388.4 493.3,386.8 493.4,385.3 493.5,383.7 493.6,382.2 493.6,380.6 493.7,379.1 493.8,377.5 493.9,376.0 493.9,374.5 494.0,373.0 494.1,371.5 494.1,369.9 494.2,368.4 494.3,366.9 494.4,365.5 494.4,364.0 494.5,362.5 494.6,361.0 494.6,359.6 494.7,358.1 494.8,356.7 494.8,355.2 494.9,353.8 494.9,352.4 495.0,351.0 495.1,349.4 495.1,347.7 495.2,346.0 495.3,344.3 495.3,342.6 495.4,340.9 495.4,339.1 495.5,337.3 495.5,335.5 495.6,333.7 495.6,331.8 495.7,330.0 495.7,328.1 495.8,326.2 495.8,324.4 495.9,322.5 495.9,320.6 496.0,318.7 496.0,316.8 496.0,314.9 496.1,313.0 496.1,311.1 496.1,309.2 496.2,307.3 496.2,305.5 496.3,303.6 496.3,301.7 496.3,299.9 496.4,298.0 496.4,296.2 496.4,294.4 496.5,292.6 496.5,290.8 496.5,289.1 496.6,287.3 496.6,285.6 496.6,283.9 496.7,282.3 496.7,280.6 496.7,279.0 496.8,277.4 496.8,275.9 496.9,274.4 496.9,272.9 496.9,271.4 497.0,270.0 497.0,268.7 497.0,267.3 497.1,266.1 497.1,264.8 497.2,263.6 497.2,262.5 497.3,261.4 497.3,260.3 497.4,259.3 497.4,258.3 497.5,257.4 497.5,256.6 497.6,255.8 497.6,255.1 497.7,254.4 497.7,253.8 497.8,253.3 497.9,252.8 497.9,252.4 498.0,252.0 498.1,251.5 498.2,251.2 498.4,251.1 498.5,251.1 498.6,251.3 498.8,251.6 498.9,252.1 499.1,252.7 499.2,253.4 499.4,254.2 499.5,255.2 499.7,256.3 499.8,257.5 500.0,258.8 500.2,260.2 500.3,261.8 500.5,263.4 500.6,265.0 500.8,266.8 501.0,268.7 501.1,270.6 501.3,272.5 501.5,274.6 501.7,276.7 501.8,278.8 502.0,281.0 502.2,283.3 502.3,285.5 502.5,287.8 502.7,290.1 502.9,292.5 503.0,294.8 503.2,297.2 503.4,299.6 503.5,301.9 503.7,304.3 503.8,306.7 504.0,309.0 504.1,310.1 504.2,311.3 504.2,312.4 504.3,313.6 504.4,314.8 504.5,316.0 504.5,317.3 504.6,318.6 504.7,319.8 504.8,321.1 504.8,322.5 504.9,323.8 505.0,325.2 505.0,326.6 505.1,327.9 505.2,329.4 505.3,330.8 505.3,332.2 505.4,333.7 505.5,335.1 505.6,336.6 505.7,338.1 505.7,339.6 505.8,341.1 505.9,342.7 506.0,344.2 506.0,345.7 506.1,347.3 506.2,348.9 506.2,350.4 506.3,352.0 506.4,353.6 506.5,355.2 506.5,356.8 506.6,358.4 506.7,360.0 506.8,361.7 506.8,363.3 506.9,364.9 507.0,366.6 507.1,368.2 507.2,369.8 507.2,371.5 507.3,373.1 507.4,374.8 507.5,376.4 507.5,378.1 507.6,379.7 507.7,381.3 507.8,383.0 507.8,384.6 507.9,386.3 508.0,387.9 508.0,389.5 508.1,391.2 508.2,392.8 508.3,394.4 508.3,396.0 508.4,397.6 508.5,399.2 508.6,400.8 508.7,402.4 508.7,404.0 508.8,405.5 508.9,407.1 509.0,408.6 509.0,410.2 509.1,411.7 509.2,413.2 509.2,414.7 509.3,416.2 509.4,417.7 509.5,419.2 509.5,420.6 509.6,422.0 509.7,423.5 509.8,424.9 509.8,426.3 509.9,427.6 510.0,429.0 510.1,430.7 510.2,432.4 510.3,434.0 510.4,435.7 510.5,437.4 510.6,439.0 510.7,440.7 510.8,442.3 510.9,444.0 511.0,445.6 511.1,447.2 511.2,448.9 511.3,450.5 511.4,452.1 511.5,453.7 511.6,455.3 511.7,456.9 511.8,458.5 511.9,460.1 512.0,461.7 512.1,463.3 512.2,464.8 512.3,466.4 512.4,467.9 512.5,469.5 512.6,471.0 512.7,472.6 512.8,474.1 512.9,475.6 513.0,477.2 513.1,478.7 513.2,480.2 513.3,481.7 513.4,483.2 513.5,484.7 513.6,486.2 513.7,487.6 513.8,489.1 513.9,490.6 514.0,492.0 514.1,493.5 514.2,494.9 514.3,496.4 514.3,497.8 514.4,499.2 514.5,500.6 514.6,502.1 514.7,503.5 514.8,504.9 514.9,506.3 515.0,507.6 515.1,509.0 515.1,510.4 515.2,511.7 515.3,513.1 515.4,514.5 515.5,515.8 515.6,517.1 515.6,518.5 515.7,519.8 515.8,521.1 515.9,522.4 515.9,523.7 516.0,525.0 516.1,526.8 516.2,528.6 516.3,530.3 516.4,532.1 516.4,533.8 516.5,535.5 516.6,537.2 516.7,538.9 516.7,540.5 516.8,542.2 516.9,543.8 516.9,545.5 517.0,547.1 517.0,548.7 517.1,550.3 517.1,551.8 517.2,553.4 517.3,554.9 517.3,556.5 517.4,558.0 517.4,559.5 517.5,561.0 517.5,562.5 517.5,564.0 517.6,565.4 517.6,566.9 517.7,568.3 517.7,569.8 517.8,571.2 517.9,572.6 517.9,574.0 518.0,575.4 518.0,576.8 518.1,578.2 518.1,579.5 518.2,580.9 518.3,582.2 518.3,583.6 518.4,584.9 518.5,586.2 518.6,587.5 518.6,588.9 518.7,590.2 518.8,591.4 518.9,592.7 519.0,594.0 519.1,595.8 519.3,597.6 519.4,599.4 519.6,601.1 519.8,602.8 519.9,604.5 520.1,606.1 520.3,607.8 520.5,609.4 520.7,611.0 520.8,612.5 521.0,614.1 521.2,615.6 521.4,617.1 521.6,618.6 521.8,620.1 522.0,621.5 522.2,623.0 522.4,624.4 522.6,625.8 522.8,627.2 523.0,628.6 523.2,630.0 523.4,631.3 523.6,632.7 523.8,634.0 524.0,635.4 524.2,636.7 524.4,638.0 524.6,639.4 524.8,640.7 525.0,642.0 525.3,643.7 525.5,645.4 525.8,647.1 526.0,648.8 526.3,650.4 526.6,652.1 526.8,653.6 527.1,655.2 527.4,656.8 527.7,658.3 527.9,659.8 528.2,661.3 528.5,662.8 528.7,664.2 529.0,665.7 529.2,667.1 529.5,668.5 529.7,669.9 529.9,671.3 530.2,672.7 530.4,674.0 530.6,675.4 530.8,676.7 531.0,678.0 531.2,679.7 531.4,681.4 531.6,683.1 531.8,684.8 532.0,686.4 532.1,688.0 532.2,689.6 532.4,691.1 532.5,692.6 532.6,694.1 532.8,695.6 532.9,697.0 533.0,698.4 533.2,699.8 533.4,701.1 533.6,702.4 533.8,703.7 534.0,705.0 534.4,706.8 534.8,708.6 535.3,710.2 535.8,711.8 536.3,713.3 536.8,714.8 537.3,716.2 537.9,717.6 538.4,718.9 539.0,720.3 539.5,721.6 540.0,723.0 540.6,724.6 541.2,726.3 541.8,727.9 542.4,729.5 543.0,731.1 543.6,732.6 544.2,734.0 544.8,735.4 545.4,736.8 546.0,738.0 547.0,739.8 548.1,741.4 549.2,742.9 550.2,744.2 551.2,745.6 552.0,747.0 552.6,748.5 553.1,750.1 553.5,751.7 553.9,753.2 554.4,754.7 555.0,756.0 556.3,757.8 557.8,759.4 559.4,760.8 561.0,762.0 562.6,763.0 564.2,763.7 565.7,764.3 567.0,765.0 568.5,766.5 570.0,768.0 571.3,768.8 572.8,769.7 574.4,770.5 576.0,771.0 577.5,771.1 579.0,771.0 580.5,770.9 582.0,771.0 583.6,771.6 585.2,772.5 586.7,773.4 588.0,774.0 589.5,774.2 591.0,774.0 592.3,774.0 593.8,774.0 595.4,774.0 597.0,774.0 598.6,774.1 600.2,774.2 601.7,774.2 603.0,774.0 604.5,772.5 606.0,771.0 607.3,770.8 608.8,770.8 610.4,770.9 612.0,771.0 613.5,771.1 615.0,771.2 616.5,771.2 618.0,771.0 619.6,770.4 621.2,769.5 622.7,768.6 624.0,768.0 625.5,768.0 627.0,768.0 628.3,767.4 629.8,766.5 631.4,765.6 633.0,765.0 634.5,764.9 636.0,765.0 637.5,765.1 639.0,765.0 640.6,764.4 642.2,763.5 643.7,762.6 645.0,762.0 646.5,762.0 648.0,762.0 649.3,761.4 650.8,760.5 652.4,759.6 654.0,759.0 655.6,758.9 657.2,759.0 658.7,759.1 660.0,759.0 661.5,757.5 663.0,756.0 664.3,755.9 665.8,756.0 667.4,756.1 669.0,756.0 670.5,755.5 672.0,754.7 673.5,753.8 675.0,753.0 676.6,752.2 678.2,751.3 679.7,750.5 681.0,750.0 682.5,750.0 684.0,750.0 685.3,749.5 686.8,748.7 688.4,747.8 690.0,747.0 691.6,746.2 693.2,745.3 694.7,744.5 696.0,744.0 697.5,744.0 699.0,744.0 700.3,743.4 701.8,742.5 703.4,741.6 705.0,741.0 706.5,740.9 708.0,741.0 709.5,741.1 711.0,741.0 712.6,740.5 714.2,739.7 715.7,738.8 717.0,738.0 718.5,736.3 720.0,735.0 721.3,734.9 722.8,735.0 724.4,735.1 726.0,735.0 727.5,734.5 729.0,733.7 730.5,732.8 732.0,732.0 733.6,731.2 735.2,730.3 736.7,729.5 738.0,729.0 739.5,729.0 741.0,729.0 742.3,728.4 743.8,727.5 745.4,726.6 747.0,726.0 748.6,725.9 750.2,726.0 751.7,726.1 753.0,726.0 754.5,724.7 756.0,723.0 757.3,722.2 758.8,721.3 760.4,720.5 762.0,720.0 763.5,719.9 765.0,720.0 766.5,720.1 768.0,720.0 769.6,719.5 771.2,718.7 772.7,717.8 774.0,717.0 775.5,715.3 777.0,714.0 778.3,713.9 779.8,714.0 781.4,714.1 783.0,714.0 784.6,713.4 786.2,712.5 787.7,711.6 789.0,711.0 790.5,711.0 792.0,711.0 793.3,710.5 794.8,709.7 796.4,708.8 798.0,708.0 799.5,707.2 801.0,706.3 802.5,705.5 804.0,705.0 805.6,704.9 807.2,705.0 808.7,705.1 810.0,705.0 811.5,703.5 813.0,702.0 814.3,701.9 815.8,702.0 817.4,702.1 819.0,702.0 820.6,701.5 822.2,700.7 823.7,699.8 825.0,699.0 826.5,697.3 828.0,696.0 829.3,695.9 830.8,696.0 832.4,696.1 834.0,696.0 835.5,695.4 837.0,694.5 838.5,693.6 840.0,693.0 841.6,692.9 843.2,693.0 844.7,693.1 846.0,693.0 847.5,691.7 849.0,690.0 850.3,689.2 851.8,688.3 853.4,687.5 855.0,687.0 856.5,686.9 858.0,687.0 859.5,687.1 861.0,687.0 862.6,686.4 864.2,685.5 865.7,684.6 867.0,684.0 868.5,684.0 870.0,684.0 871.3,683.5 872.8,682.7 874.4,681.8 876.0,681.0 877.6,680.2 879.2,679.3 880.7,678.5 882.0,678.0 883.5,678.0 885.0,678.0 886.3,677.4 887.8,676.5 889.4,675.6 891.0,675.0 892.5,674.9 894.0,675.0 895.5,675.1 897.0,675.0 898.6,674.4 900.2,673.5 901.7,672.6 903.0,672.0 904.5,672.0 906.0,672.0 907.3,671.4 908.8,670.5 910.4,669.6 912.0,669.0 913.6,668.9 915.2,669.0 916.7,669.1 918.0,669.0 919.5,667.7 921.0,666.0 922.3,665.2 923.8,664.3 925.4,663.5 927.0,663.0 928.5,662.9 930.0,663.0 931.5,663.1 933.0,663.0 934.6,662.4 936.2,661.5 937.7,660.6 939.0,660.0 940.5,660.0 942.0,660.0 943.3,659.4 944.8,658.5 946.4,657.6 948.0,657.0 949.6,656.9 951.2,657.0 952.7,657.1 954.0,657.0 955.5,655.5 957.0,654.0 958.3,653.9 959.8,654.0 961.4,654.1 963.0,654.0 964.5,653.4 966.0,652.5 967.5,651.6 969.0,651.0 970.6,650.9 972.2,651.0 973.7,651.1 975.0,651.0 976.5,649.5 978.0,648.0 979.3,647.9 980.8,648.0 982.4,648.1 984.0,648.0 985.5,647.5 987.0,646.7 988.5,645.8 990.0,645.0 991.6,644.2 993.2,643.3 994.7,642.5 996.0,642.0 997.5,642.0 999.0,642.0 1000.3,641.4 1001.8,640.5 1003.4,639.6 1005.0,639.0 1006.6,638.9 1008.2,639.0 1009.7,639.1 1011.0,639.0 1012.5,637.5 1014.0,636.0 1015.3,635.9 1016.8,636.0 1018.4,636.1 1020.0,636.0 1021.5,635.4 1023.0,634.5 1024.5,633.6 1026.0,633.0 1027.6,632.9 1029.2,633.0 1030.7,633.1 1032.0,633.0 1033.5,631.5 1035.0,630.0 1036.3,629.9 1037.8,630.0 1039.4,630.1 1041.0,630.0 1042.6,629.4 1044.2,628.5 1045.7,627.6 1047.0,627.0 1048.5,627.0 1050.0,627.0 1051.3,626.4 1052.8,625.5 1054.4,624.6 1056.0,624.0 1057.5,623.9 1059.0,624.0 1060.5,624.1 1062.0,624.0 1063.6,623.4 1065.2,622.5 1066.7,621.6 1068.0,621.0 1069.5,621.0 1071.0,621.0 1072.3,620.4 1073.8,619.5 1075.4,618.6 1077.0,618.0 1078.6,617.9 1080.2,618.0 1081.7,618.1 1083.0,618.0 1084.5,616.5 1086.0,615.0 1087.3,614.8 1088.8,614.8 1090.4,614.9 1092.0,615.0 1093.5,615.1 1095.0,615.2 1096.5,615.2 1098.0,615.0 1099.6,614.4 1101.2,613.5 1102.7,612.6 1104.0,612.0 1105.5,612.0 1107.0,612.0 1108.3,611.4 1109.8,610.5 1111.4,609.6 1113.0,609.0 1114.5,608.9 1116.0,609.0 1117.5,609.1 1119.0,609.0 1120.6,608.4 1122.2,607.5 1123.7,606.6 1125.0,606.0 1126.5,606.0 1128.0,606.0 1129.3,605.4 1130.8,604.5 1132.4,603.6 1134.0,603.0 1135.6,602.9 1137.2,603.0 1138.7,603.1 1140.0,603.0 1141.5,601.5 1143.0,600.0 1144.3,599.9 1145.8,600.0 1147.4,600.1 1149.0,600.0 1150.5,599.4 1152.0,598.5 1153.5,597.6 1155.0,597.0 1156.6,596.8 1158.2,596.8 1159.7,596.9 1161.0,597.0 1162.5,597.2 1164.0,597.0 1165.3,596.4 1166.8,595.5 1168.4,594.6 1170.0,594.0 1171.6,593.9 1173.2,594.0 1174.7,594.1 1176.0,594.0 1177.5,592.5 1179.0,591.0 1180.4,590.8 1182.2,590.8 1183.9,590.9 1185.0,591.0" stroke="#660000" stroke-width="2" fill="none" stroke-linejoin="round"/>
<rect x="156.5" y="153.5" width="1032" height="1002" fill="none" stroke="#000" stroke-width="1"/>
<text transform="matrix(1 0 0 1.045 87.97 953.90)" font-size="39.00">10</text>
<text transform="matrix(1 0 0 1.030 131.57 935.70)" font-size="26.60">2</text>
<text transform="matrix(1 0 0 1.045 87.97 590.90)" font-size="39.00">10</text>
<text transform="matrix(1 0 0 1.030 131.84 570.40)" font-size="26.60">3</text>
<text transform="matrix(1 0 0 1.045 87.97 230.90)" font-size="39.00">10</text>
<text transform="matrix(1 0 0 1.030 132.37 212.70)" font-size="26.60">4</text>
<text transform="matrix(1 0 0 1.040 143.92 1196.80)" font-size="39.20">0</text>
<text transform="matrix(1 0 0 1.040 297.61 1196.80)" font-size="39.20">0.5</text>
<text transform="matrix(1 0 0 1.040 491.44 1196.80)" font-size="39.20">1</text>
<text transform="matrix(1 0 0 1.040 642.37 1196.80)" font-size="39.20">1.5</text>
<text transform="matrix(1 0 0 1.040 830.87 1196.80)" font-size="39.20">2</text>
<text transform="matrix(1 0 0 1.040 987.41 1196.80)" font-size="39.20">2.5</text>
<text transform="matrix(1 0 0 1.040 1175.72 1196.80)" font-size="39.20">3</text>
<rect x="621" y="403" width="549" height="8" fill="#000"/>
<rect x="1162" y="291" width="8" height="120" fill="#000"/>
<rect x="606.5" y="276.5" width="555" height="126" fill="#cccc99" stroke="#000" stroke-width="1"/>
<text transform="matrix(1 0 0 1.058 683.96 357.00)" font-size="42.08" font-weight="bold" fill="#660000">Fumili2 CPU= 0.03 s</text>
<rect x="828.5" y="528.5" width="462" height="603" fill="#fff" stroke="#000" stroke-width="1"/>
<path d="M828 582.5 H1291" stroke="#000" stroke-width="1"/>
<text transform="matrix(1 0 0 1.062 981.55 572.90)" font-size="46.00">Fumili2</text>
<text transform="matrix(1 0 0 1.055 849.20 626.90)" font-size="30.80">Entries</text>
<text transform="matrix(1 0 0 1.055 849.20 681.00)" font-size="30.80">Mean</text>
<text transform="matrix(1 0 0 1.055 849.20 735.00)" font-size="30.80">Std Dev</text>
<text transform="matrix(0.8 0 0 1 850.45 785.7)" font-size="29.6" font-family="'DejaVu Sans', 'Liberation Sans', sans-serif" font-style="oblique">&#967;</text>
<text transform="matrix(1 0 0 1.000 866.45 774.00)" font-size="21.00">2</text>
<text transform="matrix(1 0 0 1.055 887.60 786.50)" font-size="30.80">/ ndf</text>
<text transform="matrix(1 0 0 1.055 849.20 839.50)" font-size="30.80">p0</text>
<text transform="matrix(1 0 0 1.055 849.20 894.00)" font-size="30.80">p1</text>
<text transform="matrix(1 0 0 1.055 849.20 948.20)" font-size="30.80">p2</text>
<text transform="matrix(1 0 0 1.055 849.20 1002.00)" font-size="30.80">p3</text>
<text transform="matrix(1 0 0 1.055 849.20 1059.30)" font-size="30.80">p4</text>
<text transform="matrix(1 0 0 1.055 849.20 1113.00)" font-size="30.80">p5</text>
<text transform="matrix(1 0 0 1.055 1158.06 623.50)" font-size="30.80">100000</text>
<text transform="matrix(1 0 0 1.055 1185.34 681.10)" font-size="30.80">1.777</text>
<text transform="matrix(1 0 0 1.055 1167.49 732.80)" font-size="30.80">0.7752</text>
<text transform="matrix(1 0 0 1.055 1104.52 789.30)" font-size="30.80">207.5 / 194</text>
<text transform="matrix(1 0 0 1.055 1088.63 843.00)" font-size="30.80">51.43</text>
<text transform="matrix(1 0 0 1.040 1180.98 843.00)" font-size="34.00">&#177;</text>
<text transform="matrix(1 0 0 1.055 1207.96 843.00)" font-size="30.80">2.01</text>
<text transform="matrix(1 0 0 1.055 1088.32 897.00)" font-size="30.80">55.54</text>
<text transform="matrix(1 0 0 1.040 1180.98 897.00)" font-size="34.00">&#177;</text>
<text transform="matrix(1 0 0 1.055 1208.88 897.00)" font-size="30.80">4.81</text>
<text transform="matrix(1 0 0 1.055 1124.68 950.60)" font-size="30.80">74.3</text>
<text transform="matrix(1 0 0 1.040 1195.98 950.60)" font-size="34.00">&#177;</text>
<text transform="matrix(1 0 0 1.055 1221.41 950.60)" font-size="30.80">1.9</text>
<text transform="matrix(1 0 0 1.055 1103.72 1004.80)" font-size="30.80">427.4</text>
<text transform="matrix(1 0 0 1.040 1195.98 1004.80)" font-size="34.00">&#177;</text>
<text transform="matrix(1 0 0 1.055 1223.26 1004.80)" font-size="30.80">2.9</text>
<text transform="matrix(1 0 0 1.055 993.54 1062.00)" font-size="30.80">0.03586</text>
<text transform="matrix(1 0 0 1.040 1120.88 1062.00)" font-size="34.00">&#177;</text>
<text transform="matrix(1 0 0 1.055 1148.97 1062.00)" font-size="30.80">0.00035</text>
<text transform="matrix(1 0 0 1.055 1170.70 1116.20)" font-size="30.80">1</text>
<text transform="matrix(1 0 0 1.040 1195.98 1116.20)" font-size="34.00">&#177;</text>
<text transform="matrix(1 0 0 1.055 1223.57 1116.20)" font-size="30.80">0.0</text>
</g>
</svg></body></html>
